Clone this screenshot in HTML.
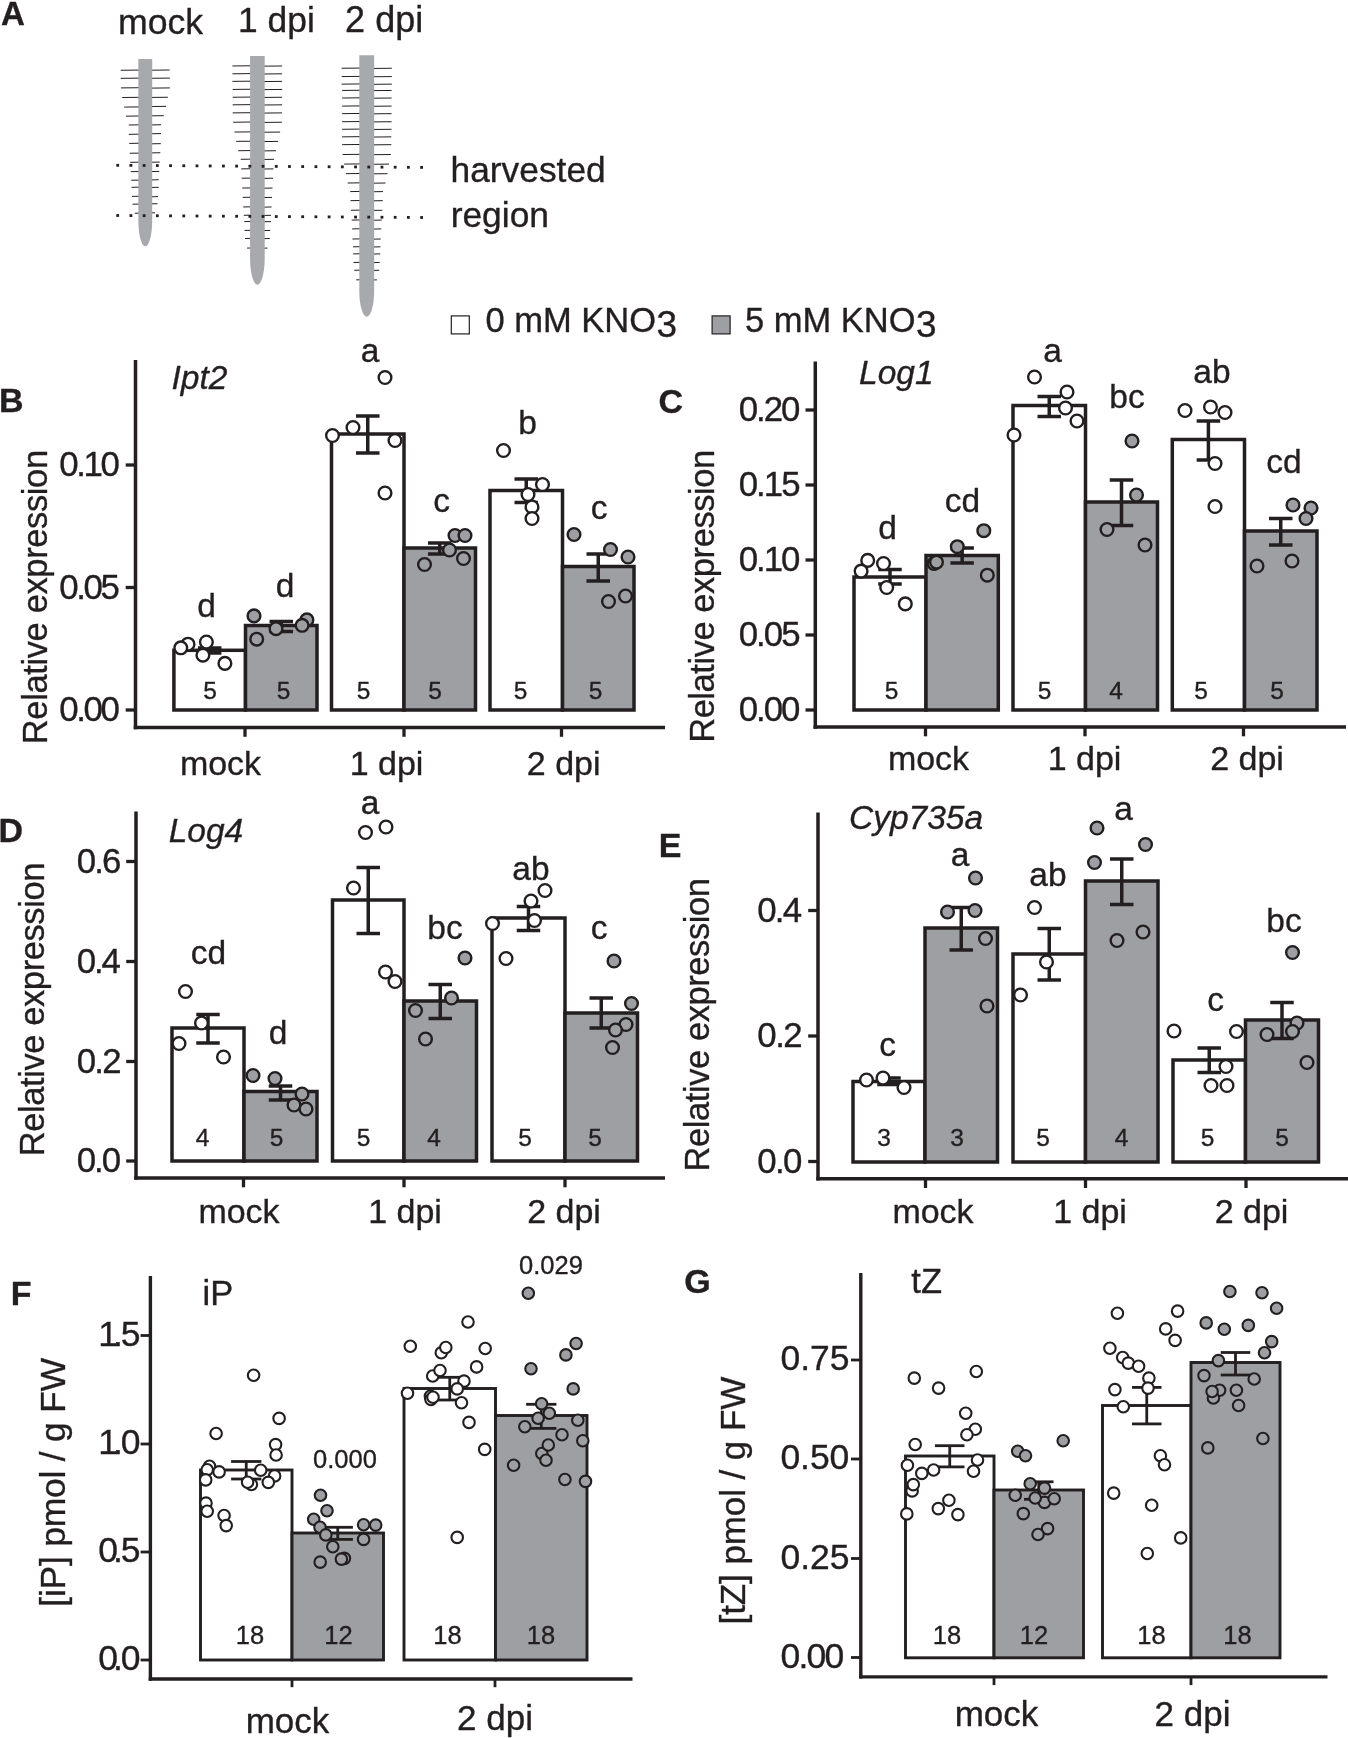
<!DOCTYPE html>
<html><head><meta charset="utf-8"><title>Figure</title>
<style>
html,body{margin:0;padding:0;background:#fff;}
svg{display:block;will-change:transform;}
svg text{font-family:"Liberation Sans",sans-serif;fill:#231F20;stroke:#231F20;stroke-width:0.35px;}
</style></head>
<body>
<svg width="1348" height="1738" viewBox="0 0 1348 1738">
<rect x="0" y="0" width="1348" height="1738" fill="#fff"/>
<text x="1" y="24.7" font-size="33" text-anchor="start" font-weight="bold" >A</text>
<text x="117.95" y="34.2" font-size="35.66">mock</text>
<text x="238.11" y="31.5" font-size="35.36">1 dpi</text>
<text x="345.10" y="31.5" font-size="36.03">2 dpi</text>
<text x="450.56" y="182.3" font-size="35.35">harvested</text>
<text x="450.66" y="226.8" font-size="35.4">region</text>
<line x1="120.68" y1="70.27" x2="145.27" y2="70.01" stroke="#231F20" stroke-width="1.0" stroke-linecap="butt"/>
<line x1="120.68" y1="78.34" x2="145.27" y2="78.09" stroke="#231F20" stroke-width="1.0" stroke-linecap="butt"/>
<line x1="120.93" y1="87.92" x2="145.27" y2="87.67" stroke="#231F20" stroke-width="1.0" stroke-linecap="butt"/>
<line x1="122.2" y1="97.51" x2="145.27" y2="97.26" stroke="#231F20" stroke-width="1.0" stroke-linecap="butt"/>
<line x1="124.21" y1="107.09" x2="145.27" y2="106.84" stroke="#231F20" stroke-width="1.0" stroke-linecap="butt"/>
<line x1="125.98" y1="116.17" x2="145.27" y2="115.92" stroke="#231F20" stroke-width="1.0" stroke-linecap="butt"/>
<line x1="128.75" y1="125.0" x2="145.27" y2="124.75" stroke="#231F20" stroke-width="1.0" stroke-linecap="butt"/>
<line x1="128.75" y1="134.33" x2="145.27" y2="134.08" stroke="#231F20" stroke-width="1.0" stroke-linecap="butt"/>
<line x1="129.26" y1="143.41" x2="145.27" y2="143.16" stroke="#231F20" stroke-width="1.0" stroke-linecap="butt"/>
<line x1="129.76" y1="153.25" x2="145.27" y2="153.0" stroke="#231F20" stroke-width="1.0" stroke-linecap="butt"/>
<line x1="130.27" y1="162.33" x2="145.27" y2="162.08" stroke="#231F20" stroke-width="1.0" stroke-linecap="butt"/>
<line x1="130.77" y1="171.66" x2="145.27" y2="171.41" stroke="#231F20" stroke-width="1.0" stroke-linecap="butt"/>
<line x1="131.28" y1="180.24" x2="145.27" y2="179.99" stroke="#231F20" stroke-width="1.0" stroke-linecap="butt"/>
<line x1="131.53" y1="187.3" x2="145.27" y2="187.05" stroke="#231F20" stroke-width="1.0" stroke-linecap="butt"/>
<line x1="132.03" y1="196.38" x2="145.27" y2="196.13" stroke="#231F20" stroke-width="1.0" stroke-linecap="butt"/>
<line x1="132.54" y1="204.2" x2="145.27" y2="203.95" stroke="#231F20" stroke-width="1.0" stroke-linecap="butt"/>
<line x1="134.81" y1="213.28" x2="145.27" y2="213.03" stroke="#231F20" stroke-width="1.0" stroke-linecap="butt"/>
<line x1="145.27" y1="70.27" x2="169.61" y2="70.01" stroke="#231F20" stroke-width="1.0" stroke-linecap="butt"/>
<line x1="145.27" y1="78.34" x2="169.87" y2="78.09" stroke="#231F20" stroke-width="1.0" stroke-linecap="butt"/>
<line x1="145.27" y1="88.18" x2="169.87" y2="87.92" stroke="#231F20" stroke-width="1.0" stroke-linecap="butt"/>
<line x1="145.27" y1="97.51" x2="167.85" y2="97.26" stroke="#231F20" stroke-width="1.0" stroke-linecap="butt"/>
<line x1="145.27" y1="106.59" x2="166.08" y2="106.34" stroke="#231F20" stroke-width="1.0" stroke-linecap="butt"/>
<line x1="145.27" y1="115.92" x2="163.81" y2="115.67" stroke="#231F20" stroke-width="1.0" stroke-linecap="butt"/>
<line x1="145.27" y1="125.0" x2="161.04" y2="124.75" stroke="#231F20" stroke-width="1.0" stroke-linecap="butt"/>
<line x1="145.27" y1="133.83" x2="161.04" y2="133.58" stroke="#231F20" stroke-width="1.0" stroke-linecap="butt"/>
<line x1="145.27" y1="143.92" x2="160.79" y2="143.66" stroke="#231F20" stroke-width="1.0" stroke-linecap="butt"/>
<line x1="145.27" y1="153.0" x2="160.28" y2="152.74" stroke="#231F20" stroke-width="1.0" stroke-linecap="butt"/>
<line x1="145.27" y1="162.33" x2="159.78" y2="162.08" stroke="#231F20" stroke-width="1.0" stroke-linecap="butt"/>
<line x1="145.27" y1="171.66" x2="159.27" y2="171.41" stroke="#231F20" stroke-width="1.0" stroke-linecap="butt"/>
<line x1="145.27" y1="179.99" x2="158.77" y2="179.73" stroke="#231F20" stroke-width="1.0" stroke-linecap="butt"/>
<line x1="145.27" y1="187.55" x2="158.77" y2="187.3" stroke="#231F20" stroke-width="1.0" stroke-linecap="butt"/>
<line x1="145.27" y1="196.88" x2="158.01" y2="196.63" stroke="#231F20" stroke-width="1.0" stroke-linecap="butt"/>
<line x1="145.27" y1="203.95" x2="157.51" y2="203.69" stroke="#231F20" stroke-width="1.0" stroke-linecap="butt"/>
<line x1="145.27" y1="213.03" x2="154.99" y2="212.77" stroke="#231F20" stroke-width="1.0" stroke-linecap="butt"/>
<path d="M138.34,58.92 L152.21,58.92 L152.21,221.33 A6.94,26 0 0 1 138.34,221.33 Z" fill="#A7A9AC"/>
<line x1="232.42" y1="65.98" x2="257.39" y2="65.73" stroke="#231F20" stroke-width="1.0" stroke-linecap="butt"/>
<line x1="232.42" y1="73.8" x2="257.39" y2="73.55" stroke="#231F20" stroke-width="1.0" stroke-linecap="butt"/>
<line x1="232.42" y1="81.36" x2="257.39" y2="81.11" stroke="#231F20" stroke-width="1.0" stroke-linecap="butt"/>
<line x1="232.67" y1="89.44" x2="257.39" y2="89.18" stroke="#231F20" stroke-width="1.0" stroke-linecap="butt"/>
<line x1="232.67" y1="97.26" x2="257.39" y2="97.0" stroke="#231F20" stroke-width="1.0" stroke-linecap="butt"/>
<line x1="232.67" y1="104.82" x2="257.39" y2="104.57" stroke="#231F20" stroke-width="1.0" stroke-linecap="butt"/>
<line x1="232.67" y1="112.89" x2="257.39" y2="112.64" stroke="#231F20" stroke-width="1.0" stroke-linecap="butt"/>
<line x1="233.18" y1="122.23" x2="257.39" y2="121.97" stroke="#231F20" stroke-width="1.0" stroke-linecap="butt"/>
<line x1="234.44" y1="132.06" x2="257.39" y2="131.81" stroke="#231F20" stroke-width="1.0" stroke-linecap="butt"/>
<line x1="236.2" y1="141.39" x2="257.39" y2="141.14" stroke="#231F20" stroke-width="1.0" stroke-linecap="butt"/>
<line x1="238.22" y1="150.73" x2="257.39" y2="150.47" stroke="#231F20" stroke-width="1.0" stroke-linecap="butt"/>
<line x1="240.74" y1="159.3" x2="257.39" y2="159.05" stroke="#231F20" stroke-width="1.0" stroke-linecap="butt"/>
<line x1="241.25" y1="168.89" x2="257.39" y2="168.64" stroke="#231F20" stroke-width="1.0" stroke-linecap="butt"/>
<line x1="241.75" y1="178.22" x2="257.39" y2="177.97" stroke="#231F20" stroke-width="1.0" stroke-linecap="butt"/>
<line x1="242.26" y1="188.06" x2="257.39" y2="187.8" stroke="#231F20" stroke-width="1.0" stroke-linecap="butt"/>
<line x1="242.76" y1="197.39" x2="257.39" y2="197.14" stroke="#231F20" stroke-width="1.0" stroke-linecap="butt"/>
<line x1="243.26" y1="206.97" x2="257.39" y2="206.72" stroke="#231F20" stroke-width="1.0" stroke-linecap="butt"/>
<line x1="243.77" y1="215.3" x2="257.39" y2="215.04" stroke="#231F20" stroke-width="1.0" stroke-linecap="butt"/>
<line x1="244.27" y1="221.6" x2="257.39" y2="221.35" stroke="#231F20" stroke-width="1.0" stroke-linecap="butt"/>
<line x1="244.53" y1="230.43" x2="257.39" y2="230.18" stroke="#231F20" stroke-width="1.0" stroke-linecap="butt"/>
<line x1="245.03" y1="238.5" x2="257.39" y2="238.25" stroke="#231F20" stroke-width="1.0" stroke-linecap="butt"/>
<line x1="247.05" y1="248.09" x2="257.39" y2="247.83" stroke="#231F20" stroke-width="1.0" stroke-linecap="butt"/>
<line x1="257.39" y1="66.23" x2="282.11" y2="65.98" stroke="#231F20" stroke-width="1.0" stroke-linecap="butt"/>
<line x1="257.39" y1="74.05" x2="282.11" y2="73.8" stroke="#231F20" stroke-width="1.0" stroke-linecap="butt"/>
<line x1="257.39" y1="81.62" x2="282.11" y2="81.36" stroke="#231F20" stroke-width="1.0" stroke-linecap="butt"/>
<line x1="257.39" y1="89.69" x2="282.11" y2="89.44" stroke="#231F20" stroke-width="1.0" stroke-linecap="butt"/>
<line x1="257.39" y1="97.51" x2="282.11" y2="97.26" stroke="#231F20" stroke-width="1.0" stroke-linecap="butt"/>
<line x1="257.39" y1="105.07" x2="282.11" y2="104.82" stroke="#231F20" stroke-width="1.0" stroke-linecap="butt"/>
<line x1="257.39" y1="113.15" x2="282.11" y2="112.89" stroke="#231F20" stroke-width="1.0" stroke-linecap="butt"/>
<line x1="257.39" y1="122.48" x2="281.85" y2="122.23" stroke="#231F20" stroke-width="1.0" stroke-linecap="butt"/>
<line x1="257.39" y1="132.31" x2="280.09" y2="132.06" stroke="#231F20" stroke-width="1.0" stroke-linecap="butt"/>
<line x1="257.39" y1="141.65" x2="278.07" y2="141.39" stroke="#231F20" stroke-width="1.0" stroke-linecap="butt"/>
<line x1="257.39" y1="150.98" x2="276.05" y2="150.73" stroke="#231F20" stroke-width="1.0" stroke-linecap="butt"/>
<line x1="257.39" y1="159.55" x2="274.04" y2="159.3" stroke="#231F20" stroke-width="1.0" stroke-linecap="butt"/>
<line x1="257.39" y1="169.14" x2="273.53" y2="168.89" stroke="#231F20" stroke-width="1.0" stroke-linecap="butt"/>
<line x1="257.39" y1="178.47" x2="273.03" y2="178.22" stroke="#231F20" stroke-width="1.0" stroke-linecap="butt"/>
<line x1="257.39" y1="188.31" x2="272.52" y2="188.06" stroke="#231F20" stroke-width="1.0" stroke-linecap="butt"/>
<line x1="257.39" y1="197.64" x2="272.02" y2="197.39" stroke="#231F20" stroke-width="1.0" stroke-linecap="butt"/>
<line x1="257.39" y1="207.23" x2="271.51" y2="206.97" stroke="#231F20" stroke-width="1.0" stroke-linecap="butt"/>
<line x1="257.39" y1="215.55" x2="271.01" y2="215.3" stroke="#231F20" stroke-width="1.0" stroke-linecap="butt"/>
<line x1="257.39" y1="221.85" x2="271.01" y2="221.6" stroke="#231F20" stroke-width="1.0" stroke-linecap="butt"/>
<line x1="257.39" y1="230.68" x2="270.25" y2="230.43" stroke="#231F20" stroke-width="1.0" stroke-linecap="butt"/>
<line x1="257.39" y1="238.75" x2="269.75" y2="238.5" stroke="#231F20" stroke-width="1.0" stroke-linecap="butt"/>
<line x1="257.39" y1="248.34" x2="267.48" y2="248.09" stroke="#231F20" stroke-width="1.0" stroke-linecap="butt"/>
<path d="M250.07,55.89 L264.7,55.89 L264.7,258.66 A7.31,26 0 0 1 250.07,258.66 Z" fill="#A7A9AC"/>
<line x1="341.63" y1="68.25" x2="366.73" y2="68.0" stroke="#231F20" stroke-width="1.0" stroke-linecap="butt"/>
<line x1="341.63" y1="76.57" x2="366.73" y2="76.32" stroke="#231F20" stroke-width="1.0" stroke-linecap="butt"/>
<line x1="341.63" y1="84.14" x2="366.73" y2="83.89" stroke="#231F20" stroke-width="1.0" stroke-linecap="butt"/>
<line x1="342.14" y1="90.45" x2="366.73" y2="90.19" stroke="#231F20" stroke-width="1.0" stroke-linecap="butt"/>
<line x1="342.14" y1="98.01" x2="366.73" y2="97.76" stroke="#231F20" stroke-width="1.0" stroke-linecap="butt"/>
<line x1="342.14" y1="106.08" x2="366.73" y2="105.83" stroke="#231F20" stroke-width="1.0" stroke-linecap="butt"/>
<line x1="342.14" y1="113.65" x2="366.73" y2="113.4" stroke="#231F20" stroke-width="1.0" stroke-linecap="butt"/>
<line x1="342.14" y1="121.72" x2="366.73" y2="121.47" stroke="#231F20" stroke-width="1.0" stroke-linecap="butt"/>
<line x1="342.14" y1="129.29" x2="366.73" y2="129.04" stroke="#231F20" stroke-width="1.0" stroke-linecap="butt"/>
<line x1="342.14" y1="136.85" x2="366.73" y2="136.6" stroke="#231F20" stroke-width="1.0" stroke-linecap="butt"/>
<line x1="342.14" y1="144.67" x2="366.73" y2="144.42" stroke="#231F20" stroke-width="1.0" stroke-linecap="butt"/>
<line x1="342.64" y1="154.51" x2="366.73" y2="154.26" stroke="#231F20" stroke-width="1.0" stroke-linecap="butt"/>
<line x1="344.15" y1="164.09" x2="366.73" y2="163.84" stroke="#231F20" stroke-width="1.0" stroke-linecap="butt"/>
<line x1="345.92" y1="173.68" x2="366.73" y2="173.43" stroke="#231F20" stroke-width="1.0" stroke-linecap="butt"/>
<line x1="347.69" y1="183.01" x2="366.73" y2="182.76" stroke="#231F20" stroke-width="1.0" stroke-linecap="butt"/>
<line x1="350.21" y1="191.59" x2="366.73" y2="191.34" stroke="#231F20" stroke-width="1.0" stroke-linecap="butt"/>
<line x1="350.46" y1="200.67" x2="366.73" y2="200.42" stroke="#231F20" stroke-width="1.0" stroke-linecap="butt"/>
<line x1="350.96" y1="210.25" x2="366.73" y2="210.0" stroke="#231F20" stroke-width="1.0" stroke-linecap="butt"/>
<line x1="351.72" y1="220.09" x2="366.73" y2="219.84" stroke="#231F20" stroke-width="1.0" stroke-linecap="butt"/>
<line x1="352.23" y1="228.92" x2="366.73" y2="228.66" stroke="#231F20" stroke-width="1.0" stroke-linecap="butt"/>
<line x1="352.48" y1="239.01" x2="366.73" y2="238.75" stroke="#231F20" stroke-width="1.0" stroke-linecap="butt"/>
<line x1="352.98" y1="246.82" x2="366.73" y2="246.57" stroke="#231F20" stroke-width="1.0" stroke-linecap="butt"/>
<line x1="353.23" y1="253.89" x2="366.73" y2="253.64" stroke="#231F20" stroke-width="1.0" stroke-linecap="butt"/>
<line x1="353.49" y1="262.46" x2="366.73" y2="262.21" stroke="#231F20" stroke-width="1.0" stroke-linecap="butt"/>
<line x1="354.24" y1="270.28" x2="366.73" y2="270.03" stroke="#231F20" stroke-width="1.0" stroke-linecap="butt"/>
<line x1="356.26" y1="279.87" x2="366.73" y2="279.61" stroke="#231F20" stroke-width="1.0" stroke-linecap="butt"/>
<line x1="366.73" y1="68.5" x2="391.82" y2="68.25" stroke="#231F20" stroke-width="1.0" stroke-linecap="butt"/>
<line x1="366.73" y1="76.82" x2="391.82" y2="76.57" stroke="#231F20" stroke-width="1.0" stroke-linecap="butt"/>
<line x1="366.73" y1="84.39" x2="391.82" y2="84.14" stroke="#231F20" stroke-width="1.0" stroke-linecap="butt"/>
<line x1="366.73" y1="90.7" x2="391.57" y2="90.45" stroke="#231F20" stroke-width="1.0" stroke-linecap="butt"/>
<line x1="366.73" y1="98.26" x2="391.57" y2="98.01" stroke="#231F20" stroke-width="1.0" stroke-linecap="butt"/>
<line x1="366.73" y1="106.34" x2="391.57" y2="106.08" stroke="#231F20" stroke-width="1.0" stroke-linecap="butt"/>
<line x1="366.73" y1="113.9" x2="391.57" y2="113.65" stroke="#231F20" stroke-width="1.0" stroke-linecap="butt"/>
<line x1="366.73" y1="121.97" x2="391.57" y2="121.72" stroke="#231F20" stroke-width="1.0" stroke-linecap="butt"/>
<line x1="366.73" y1="129.54" x2="391.57" y2="129.29" stroke="#231F20" stroke-width="1.0" stroke-linecap="butt"/>
<line x1="366.73" y1="137.11" x2="391.32" y2="136.85" stroke="#231F20" stroke-width="1.0" stroke-linecap="butt"/>
<line x1="366.73" y1="144.93" x2="391.32" y2="144.67" stroke="#231F20" stroke-width="1.0" stroke-linecap="butt"/>
<line x1="366.73" y1="154.76" x2="390.82" y2="154.51" stroke="#231F20" stroke-width="1.0" stroke-linecap="butt"/>
<line x1="366.73" y1="164.35" x2="389.05" y2="164.09" stroke="#231F20" stroke-width="1.0" stroke-linecap="butt"/>
<line x1="366.73" y1="173.93" x2="387.54" y2="173.68" stroke="#231F20" stroke-width="1.0" stroke-linecap="butt"/>
<line x1="366.73" y1="183.26" x2="385.52" y2="183.01" stroke="#231F20" stroke-width="1.0" stroke-linecap="butt"/>
<line x1="366.73" y1="191.84" x2="383.0" y2="191.59" stroke="#231F20" stroke-width="1.0" stroke-linecap="butt"/>
<line x1="366.73" y1="200.92" x2="382.74" y2="200.67" stroke="#231F20" stroke-width="1.0" stroke-linecap="butt"/>
<line x1="366.73" y1="210.5" x2="382.24" y2="210.25" stroke="#231F20" stroke-width="1.0" stroke-linecap="butt"/>
<line x1="366.73" y1="220.34" x2="381.74" y2="220.09" stroke="#231F20" stroke-width="1.0" stroke-linecap="butt"/>
<line x1="366.73" y1="229.17" x2="381.23" y2="228.92" stroke="#231F20" stroke-width="1.0" stroke-linecap="butt"/>
<line x1="366.73" y1="239.26" x2="380.73" y2="239.01" stroke="#231F20" stroke-width="1.0" stroke-linecap="butt"/>
<line x1="366.73" y1="247.08" x2="380.47" y2="246.82" stroke="#231F20" stroke-width="1.0" stroke-linecap="butt"/>
<line x1="366.73" y1="254.14" x2="380.22" y2="253.89" stroke="#231F20" stroke-width="1.0" stroke-linecap="butt"/>
<line x1="366.73" y1="262.72" x2="379.72" y2="262.46" stroke="#231F20" stroke-width="1.0" stroke-linecap="butt"/>
<line x1="366.73" y1="270.53" x2="379.21" y2="270.28" stroke="#231F20" stroke-width="1.0" stroke-linecap="butt"/>
<line x1="366.73" y1="280.12" x2="376.94" y2="279.87" stroke="#231F20" stroke-width="1.0" stroke-linecap="butt"/>
<path d="M359.29,55.13 L374.17,55.13 L374.17,290.69 A7.44,26 0 0 1 359.29,290.69 Z" fill="#A7A9AC"/>
<rect x="116.30" y="163.90" width="2.8" height="2.8" fill="#231F20"/>
<rect x="129.51" y="163.99" width="2.8" height="2.8" fill="#231F20"/>
<rect x="142.73" y="164.08" width="2.8" height="2.8" fill="#231F20"/>
<rect x="155.94" y="164.17" width="2.8" height="2.8" fill="#231F20"/>
<rect x="169.15" y="164.27" width="2.8" height="2.8" fill="#231F20"/>
<rect x="182.37" y="164.36" width="2.8" height="2.8" fill="#231F20"/>
<rect x="195.58" y="164.45" width="2.8" height="2.8" fill="#231F20"/>
<rect x="208.79" y="164.54" width="2.8" height="2.8" fill="#231F20"/>
<rect x="222.00" y="164.63" width="2.8" height="2.8" fill="#231F20"/>
<rect x="235.22" y="164.72" width="2.8" height="2.8" fill="#231F20"/>
<rect x="248.43" y="164.81" width="2.8" height="2.8" fill="#231F20"/>
<rect x="261.64" y="164.90" width="2.8" height="2.8" fill="#231F20"/>
<rect x="274.86" y="165.00" width="2.8" height="2.8" fill="#231F20"/>
<rect x="288.07" y="165.09" width="2.8" height="2.8" fill="#231F20"/>
<rect x="301.28" y="165.18" width="2.8" height="2.8" fill="#231F20"/>
<rect x="314.50" y="165.27" width="2.8" height="2.8" fill="#231F20"/>
<rect x="327.71" y="165.36" width="2.8" height="2.8" fill="#231F20"/>
<rect x="340.92" y="165.45" width="2.8" height="2.8" fill="#231F20"/>
<rect x="354.13" y="165.54" width="2.8" height="2.8" fill="#231F20"/>
<rect x="367.35" y="165.63" width="2.8" height="2.8" fill="#231F20"/>
<rect x="380.56" y="165.73" width="2.8" height="2.8" fill="#231F20"/>
<rect x="393.77" y="165.82" width="2.8" height="2.8" fill="#231F20"/>
<rect x="406.99" y="165.91" width="2.8" height="2.8" fill="#231F20"/>
<rect x="420.20" y="166.00" width="2.8" height="2.8" fill="#231F20"/>
<rect x="116.30" y="214.10" width="2.8" height="2.8" fill="#231F20"/>
<rect x="129.51" y="214.19" width="2.8" height="2.8" fill="#231F20"/>
<rect x="142.73" y="214.27" width="2.8" height="2.8" fill="#231F20"/>
<rect x="155.94" y="214.36" width="2.8" height="2.8" fill="#231F20"/>
<rect x="169.15" y="214.45" width="2.8" height="2.8" fill="#231F20"/>
<rect x="182.37" y="214.53" width="2.8" height="2.8" fill="#231F20"/>
<rect x="195.58" y="214.62" width="2.8" height="2.8" fill="#231F20"/>
<rect x="208.79" y="214.71" width="2.8" height="2.8" fill="#231F20"/>
<rect x="222.00" y="214.80" width="2.8" height="2.8" fill="#231F20"/>
<rect x="235.22" y="214.88" width="2.8" height="2.8" fill="#231F20"/>
<rect x="248.43" y="214.97" width="2.8" height="2.8" fill="#231F20"/>
<rect x="261.64" y="215.06" width="2.8" height="2.8" fill="#231F20"/>
<rect x="274.86" y="215.14" width="2.8" height="2.8" fill="#231F20"/>
<rect x="288.07" y="215.23" width="2.8" height="2.8" fill="#231F20"/>
<rect x="301.28" y="215.32" width="2.8" height="2.8" fill="#231F20"/>
<rect x="314.50" y="215.40" width="2.8" height="2.8" fill="#231F20"/>
<rect x="327.71" y="215.49" width="2.8" height="2.8" fill="#231F20"/>
<rect x="340.92" y="215.58" width="2.8" height="2.8" fill="#231F20"/>
<rect x="354.13" y="215.67" width="2.8" height="2.8" fill="#231F20"/>
<rect x="367.35" y="215.75" width="2.8" height="2.8" fill="#231F20"/>
<rect x="380.56" y="215.84" width="2.8" height="2.8" fill="#231F20"/>
<rect x="393.77" y="215.93" width="2.8" height="2.8" fill="#231F20"/>
<rect x="406.99" y="216.01" width="2.8" height="2.8" fill="#231F20"/>
<rect x="420.20" y="216.10" width="2.8" height="2.8" fill="#231F20"/>
<rect x="451.3" y="315.9" width="18" height="18" fill="#fff" stroke="#231F20" stroke-width="1.2"/>
<rect x="712.1" y="315.9" width="18" height="18" fill="#9D9FA2" stroke="#231F20" stroke-width="1.2"/>
<text x="485.5" y="331.5" font-size="34.5" text-anchor="start" >0 mM KNO</text>
<text x="656.5" y="337.4" font-size="37" text-anchor="start" >3</text>
<text x="745" y="331.5" font-size="34.5" text-anchor="start" >5 mM KNO</text>
<text x="916" y="337.4" font-size="37" text-anchor="start" >3</text>
<rect x="173.9" y="650.3" width="71.6" height="59.700000000000045" fill="#fff" stroke="#231F20" stroke-width="3.5"/>
<rect x="245.5" y="625.5" width="71.5" height="84.5" fill="#9D9FA2" stroke="#231F20" stroke-width="3.5"/>
<rect x="331.5" y="434" width="72.5" height="276" fill="#fff" stroke="#231F20" stroke-width="3.5"/>
<rect x="404" y="548" width="71.5" height="162" fill="#9D9FA2" stroke="#231F20" stroke-width="3.5"/>
<rect x="490" y="490.5" width="72.5" height="219.5" fill="#fff" stroke="#231F20" stroke-width="3.5"/>
<rect x="562.5" y="566.5" width="71.5" height="143.5" fill="#9D9FA2" stroke="#231F20" stroke-width="3.5"/>
<line x1="135.5" y1="360" x2="135.5" y2="729.25" stroke="#231F20" stroke-width="3.5" stroke-linecap="butt"/>
<line x1="133.75" y1="727.5" x2="665" y2="727.5" stroke="#231F20" stroke-width="3.5" stroke-linecap="butt"/>
<line x1="125.7" y1="465" x2="135.5" y2="465" stroke="#231F20" stroke-width="3.3" stroke-linecap="butt"/>
<text x="59.24" y="476.2" font-size="34.8" letter-spacing="-2.380">0.10</text>
<line x1="125.7" y1="587.5" x2="135.5" y2="587.5" stroke="#231F20" stroke-width="3.3" stroke-linecap="butt"/>
<text x="59.24" y="598.7" font-size="34.8" letter-spacing="-2.346">0.05</text>
<line x1="125.7" y1="710" x2="135.5" y2="710" stroke="#231F20" stroke-width="3.3" stroke-linecap="butt"/>
<text x="59.24" y="721.2" font-size="34.8" letter-spacing="-2.380">0.00</text>
<line x1="245" y1="727.5" x2="245" y2="736.8" stroke="#231F20" stroke-width="3.3" stroke-linecap="butt"/>
<line x1="404" y1="727.5" x2="404" y2="736.8" stroke="#231F20" stroke-width="3.3" stroke-linecap="butt"/>
<line x1="561.5" y1="727.5" x2="561.5" y2="736.8" stroke="#231F20" stroke-width="3.3" stroke-linecap="butt"/>
<text x="220.5" y="775" font-size="34" text-anchor="middle" >mock</text>
<text x="386.5" y="775" font-size="34" text-anchor="middle" >1 dpi</text>
<text x="563.7" y="775" font-size="34" text-anchor="middle" >2 dpi</text>
<line x1="209.7" y1="648" x2="209.7" y2="653" stroke="#231F20" stroke-width="3.5" stroke-linecap="butt"/>
<line x1="197.95" y1="648" x2="221.45" y2="648" stroke="#231F20" stroke-width="3.5" stroke-linecap="butt"/>
<line x1="197.95" y1="653" x2="221.45" y2="653" stroke="#231F20" stroke-width="3.5" stroke-linecap="butt"/>
<line x1="281.25" y1="621.5" x2="281.25" y2="631.5" stroke="#231F20" stroke-width="3.5" stroke-linecap="butt"/>
<line x1="269.5" y1="621.5" x2="293.0" y2="621.5" stroke="#231F20" stroke-width="3.5" stroke-linecap="butt"/>
<line x1="269.5" y1="631.5" x2="293.0" y2="631.5" stroke="#231F20" stroke-width="3.5" stroke-linecap="butt"/>
<line x1="367.75" y1="416" x2="367.75" y2="453" stroke="#231F20" stroke-width="3.5" stroke-linecap="butt"/>
<line x1="356.0" y1="416" x2="379.5" y2="416" stroke="#231F20" stroke-width="3.5" stroke-linecap="butt"/>
<line x1="356.0" y1="453" x2="379.5" y2="453" stroke="#231F20" stroke-width="3.5" stroke-linecap="butt"/>
<line x1="439.75" y1="543" x2="439.75" y2="554" stroke="#231F20" stroke-width="3.5" stroke-linecap="butt"/>
<line x1="428.0" y1="543" x2="451.5" y2="543" stroke="#231F20" stroke-width="3.5" stroke-linecap="butt"/>
<line x1="428.0" y1="554" x2="451.5" y2="554" stroke="#231F20" stroke-width="3.5" stroke-linecap="butt"/>
<line x1="526.25" y1="479" x2="526.25" y2="502.5" stroke="#231F20" stroke-width="3.5" stroke-linecap="butt"/>
<line x1="514.5" y1="479" x2="538.0" y2="479" stroke="#231F20" stroke-width="3.5" stroke-linecap="butt"/>
<line x1="514.5" y1="502.5" x2="538.0" y2="502.5" stroke="#231F20" stroke-width="3.5" stroke-linecap="butt"/>
<line x1="598.25" y1="554" x2="598.25" y2="581" stroke="#231F20" stroke-width="3.5" stroke-linecap="butt"/>
<line x1="586.5" y1="554" x2="610.0" y2="554" stroke="#231F20" stroke-width="3.5" stroke-linecap="butt"/>
<line x1="586.5" y1="581" x2="610.0" y2="581" stroke="#231F20" stroke-width="3.5" stroke-linecap="butt"/>
<circle cx="188" cy="644.2" r="6.35" fill="#fff" stroke="#231F20" stroke-width="2.4"/>
<circle cx="180.8" cy="647.8" r="6.35" fill="#fff" stroke="#231F20" stroke-width="2.4"/>
<circle cx="206.4" cy="642" r="6.35" fill="#fff" stroke="#231F20" stroke-width="2.4"/>
<circle cx="202.9" cy="655.2" r="6.35" fill="#fff" stroke="#231F20" stroke-width="2.4"/>
<circle cx="224.9" cy="663.4" r="6.35" fill="#fff" stroke="#231F20" stroke-width="2.4"/>
<circle cx="254" cy="615.9" r="6.35" fill="#9D9FA2" stroke="#231F20" stroke-width="2.4"/>
<circle cx="256.7" cy="639.2" r="6.35" fill="#9D9FA2" stroke="#231F20" stroke-width="2.4"/>
<circle cx="276" cy="628.7" r="6.35" fill="#9D9FA2" stroke="#231F20" stroke-width="2.4"/>
<circle cx="306.9" cy="619.9" r="6.35" fill="#9D9FA2" stroke="#231F20" stroke-width="2.4"/>
<circle cx="302.1" cy="625.3" r="6.35" fill="#9D9FA2" stroke="#231F20" stroke-width="2.4"/>
<circle cx="332.5" cy="435.5" r="6.35" fill="#fff" stroke="#231F20" stroke-width="2.4"/>
<circle cx="353" cy="427.5" r="6.35" fill="#fff" stroke="#231F20" stroke-width="2.4"/>
<circle cx="385" cy="377.5" r="6.35" fill="#fff" stroke="#231F20" stroke-width="2.4"/>
<circle cx="395" cy="440.5" r="6.35" fill="#fff" stroke="#231F20" stroke-width="2.4"/>
<circle cx="385" cy="493" r="6.35" fill="#fff" stroke="#231F20" stroke-width="2.4"/>
<circle cx="424.5" cy="564.5" r="6.35" fill="#9D9FA2" stroke="#231F20" stroke-width="2.4"/>
<circle cx="449.5" cy="550" r="6.35" fill="#9D9FA2" stroke="#231F20" stroke-width="2.4"/>
<circle cx="455" cy="535.5" r="6.35" fill="#9D9FA2" stroke="#231F20" stroke-width="2.4"/>
<circle cx="465" cy="535.5" r="6.35" fill="#9D9FA2" stroke="#231F20" stroke-width="2.4"/>
<circle cx="463.5" cy="558.5" r="6.35" fill="#9D9FA2" stroke="#231F20" stroke-width="2.4"/>
<circle cx="503.5" cy="450.5" r="6.35" fill="#fff" stroke="#231F20" stroke-width="2.4"/>
<circle cx="528" cy="494.5" r="6.35" fill="#fff" stroke="#231F20" stroke-width="2.4"/>
<circle cx="542.5" cy="484.5" r="6.35" fill="#fff" stroke="#231F20" stroke-width="2.4"/>
<circle cx="532" cy="507" r="6.35" fill="#fff" stroke="#231F20" stroke-width="2.4"/>
<circle cx="532" cy="518.5" r="6.35" fill="#fff" stroke="#231F20" stroke-width="2.4"/>
<circle cx="574" cy="534.5" r="6.35" fill="#9D9FA2" stroke="#231F20" stroke-width="2.4"/>
<circle cx="610.5" cy="549.5" r="6.35" fill="#9D9FA2" stroke="#231F20" stroke-width="2.4"/>
<circle cx="628" cy="557" r="6.35" fill="#9D9FA2" stroke="#231F20" stroke-width="2.4"/>
<circle cx="608.5" cy="601.5" r="6.35" fill="#9D9FA2" stroke="#231F20" stroke-width="2.4"/>
<circle cx="625.5" cy="596" r="6.35" fill="#9D9FA2" stroke="#231F20" stroke-width="2.4"/>
<text x="370" y="361.5" font-size="33.5" text-anchor="middle" >a</text>
<text x="527.5" y="434" font-size="33.5" text-anchor="middle" >b</text>
<text x="441.5" y="512" font-size="33.5" text-anchor="middle" >c</text>
<text x="599" y="518.5" font-size="33.5" text-anchor="middle" >c</text>
<text x="206.5" y="616.5" font-size="33.5" text-anchor="middle" >d</text>
<text x="285" y="597" font-size="33.5" text-anchor="middle" >d</text>
<text x="210" y="699" font-size="24.5" text-anchor="middle" >5</text>
<text x="283.5" y="699" font-size="24.5" text-anchor="middle" >5</text>
<text x="363.5" y="699" font-size="24.5" text-anchor="middle" >5</text>
<text x="435" y="699" font-size="24.5" text-anchor="middle" >5</text>
<text x="520.5" y="699" font-size="24.5" text-anchor="middle" >5</text>
<text x="595.5" y="699" font-size="24.5" text-anchor="middle" >5</text>
<text x="171.5" y="389" font-size="33.5" text-anchor="start" font-style="italic" >Ipt2</text>
<text x="-1" y="411.5" font-size="34" text-anchor="start" font-weight="bold" >B</text>
<text transform="translate(46.7,741.4) rotate(-90)" x="-2.83" y="0" font-size="34.5" letter-spacing="-0.373">Relative expression</text>
<rect x="854" y="577" width="72" height="133" fill="#fff" stroke="#231F20" stroke-width="3.5"/>
<rect x="926" y="555.5" width="72.29999999999995" height="154.5" fill="#9D9FA2" stroke="#231F20" stroke-width="3.5"/>
<rect x="1013" y="405.5" width="72.5" height="304.5" fill="#fff" stroke="#231F20" stroke-width="3.5"/>
<rect x="1085.5" y="502" width="72.0" height="208" fill="#9D9FA2" stroke="#231F20" stroke-width="3.5"/>
<rect x="1172.3" y="439.5" width="72.20000000000005" height="270.5" fill="#fff" stroke="#231F20" stroke-width="3.5"/>
<rect x="1244.5" y="531" width="72.5" height="179" fill="#9D9FA2" stroke="#231F20" stroke-width="3.5"/>
<line x1="815.3" y1="361.5" x2="815.3" y2="728.75" stroke="#231F20" stroke-width="3.5" stroke-linecap="butt"/>
<line x1="813.55" y1="727" x2="1346" y2="727" stroke="#231F20" stroke-width="3.5" stroke-linecap="butt"/>
<line x1="805.5" y1="410" x2="815.3" y2="410" stroke="#231F20" stroke-width="3.3" stroke-linecap="butt"/>
<text x="738.64" y="421.0" font-size="34.8" letter-spacing="-1.980">0.20</text>
<line x1="805.5" y1="485" x2="815.3" y2="485" stroke="#231F20" stroke-width="3.3" stroke-linecap="butt"/>
<text x="738.64" y="496.0" font-size="34.8" letter-spacing="-1.946">0.15</text>
<line x1="805.5" y1="560" x2="815.3" y2="560" stroke="#231F20" stroke-width="3.3" stroke-linecap="butt"/>
<text x="738.64" y="571.0" font-size="34.8" letter-spacing="-1.980">0.10</text>
<line x1="805.5" y1="635" x2="815.3" y2="635" stroke="#231F20" stroke-width="3.3" stroke-linecap="butt"/>
<text x="738.64" y="646.0" font-size="34.8" letter-spacing="-1.946">0.05</text>
<line x1="805.5" y1="710" x2="815.3" y2="710" stroke="#231F20" stroke-width="3.3" stroke-linecap="butt"/>
<text x="738.64" y="721.0" font-size="34.8" letter-spacing="-1.980">0.00</text>
<line x1="925.5" y1="727" x2="925.5" y2="736.3" stroke="#231F20" stroke-width="3.3" stroke-linecap="butt"/>
<line x1="1085" y1="727" x2="1085" y2="736.3" stroke="#231F20" stroke-width="3.3" stroke-linecap="butt"/>
<line x1="1243.5" y1="727" x2="1243.5" y2="736.3" stroke="#231F20" stroke-width="3.3" stroke-linecap="butt"/>
<text x="928.5" y="770" font-size="34" text-anchor="middle" >mock</text>
<text x="1084.5" y="770" font-size="34" text-anchor="middle" >1 dpi</text>
<text x="1247" y="770" font-size="34" text-anchor="middle" >2 dpi</text>
<line x1="890.0" y1="569.5" x2="890.0" y2="584" stroke="#231F20" stroke-width="3.5" stroke-linecap="butt"/>
<line x1="878.25" y1="569.5" x2="901.75" y2="569.5" stroke="#231F20" stroke-width="3.5" stroke-linecap="butt"/>
<line x1="878.25" y1="584" x2="901.75" y2="584" stroke="#231F20" stroke-width="3.5" stroke-linecap="butt"/>
<line x1="962.15" y1="548" x2="962.15" y2="563" stroke="#231F20" stroke-width="3.5" stroke-linecap="butt"/>
<line x1="950.4" y1="548" x2="973.9" y2="548" stroke="#231F20" stroke-width="3.5" stroke-linecap="butt"/>
<line x1="950.4" y1="563" x2="973.9" y2="563" stroke="#231F20" stroke-width="3.5" stroke-linecap="butt"/>
<line x1="1049.25" y1="396.5" x2="1049.25" y2="416.5" stroke="#231F20" stroke-width="3.5" stroke-linecap="butt"/>
<line x1="1037.5" y1="396.5" x2="1061.0" y2="396.5" stroke="#231F20" stroke-width="3.5" stroke-linecap="butt"/>
<line x1="1037.5" y1="416.5" x2="1061.0" y2="416.5" stroke="#231F20" stroke-width="3.5" stroke-linecap="butt"/>
<line x1="1121.5" y1="480" x2="1121.5" y2="525.5" stroke="#231F20" stroke-width="3.5" stroke-linecap="butt"/>
<line x1="1109.75" y1="480" x2="1133.25" y2="480" stroke="#231F20" stroke-width="3.5" stroke-linecap="butt"/>
<line x1="1109.75" y1="525.5" x2="1133.25" y2="525.5" stroke="#231F20" stroke-width="3.5" stroke-linecap="butt"/>
<line x1="1208.4" y1="421" x2="1208.4" y2="460" stroke="#231F20" stroke-width="3.5" stroke-linecap="butt"/>
<line x1="1196.65" y1="421" x2="1220.15" y2="421" stroke="#231F20" stroke-width="3.5" stroke-linecap="butt"/>
<line x1="1196.65" y1="460" x2="1220.15" y2="460" stroke="#231F20" stroke-width="3.5" stroke-linecap="butt"/>
<line x1="1280.75" y1="518.5" x2="1280.75" y2="545" stroke="#231F20" stroke-width="3.5" stroke-linecap="butt"/>
<line x1="1269.0" y1="518.5" x2="1292.5" y2="518.5" stroke="#231F20" stroke-width="3.5" stroke-linecap="butt"/>
<line x1="1269.0" y1="545" x2="1292.5" y2="545" stroke="#231F20" stroke-width="3.5" stroke-linecap="butt"/>
<circle cx="867.7" cy="560.4" r="6.35" fill="#fff" stroke="#231F20" stroke-width="2.4"/>
<circle cx="861.1" cy="571.1" r="6.35" fill="#fff" stroke="#231F20" stroke-width="2.4"/>
<circle cx="883.5" cy="563.5" r="6.35" fill="#fff" stroke="#231F20" stroke-width="2.4"/>
<circle cx="886.7" cy="587.5" r="6.35" fill="#fff" stroke="#231F20" stroke-width="2.4"/>
<circle cx="905.3" cy="603.9" r="6.35" fill="#fff" stroke="#231F20" stroke-width="2.4"/>
<circle cx="934" cy="563.5" r="6.35" fill="#9D9FA2" stroke="#231F20" stroke-width="2.4"/>
<circle cx="936.5" cy="562.2" r="6.35" fill="#9D9FA2" stroke="#231F20" stroke-width="2.4"/>
<circle cx="957.3" cy="546.7" r="6.35" fill="#9D9FA2" stroke="#231F20" stroke-width="2.4"/>
<circle cx="983.8" cy="530.7" r="6.35" fill="#9D9FA2" stroke="#231F20" stroke-width="2.4"/>
<circle cx="987.3" cy="575.2" r="6.35" fill="#9D9FA2" stroke="#231F20" stroke-width="2.4"/>
<circle cx="1014" cy="435" r="6.35" fill="#fff" stroke="#231F20" stroke-width="2.4"/>
<circle cx="1034.5" cy="377" r="6.35" fill="#fff" stroke="#231F20" stroke-width="2.4"/>
<circle cx="1067" cy="392" r="6.35" fill="#fff" stroke="#231F20" stroke-width="2.4"/>
<circle cx="1065.5" cy="408" r="6.35" fill="#fff" stroke="#231F20" stroke-width="2.4"/>
<circle cx="1077" cy="421" r="6.35" fill="#fff" stroke="#231F20" stroke-width="2.4"/>
<circle cx="1132" cy="441" r="6.35" fill="#9D9FA2" stroke="#231F20" stroke-width="2.4"/>
<circle cx="1136.5" cy="495" r="6.35" fill="#9D9FA2" stroke="#231F20" stroke-width="2.4"/>
<circle cx="1107" cy="529.5" r="6.35" fill="#9D9FA2" stroke="#231F20" stroke-width="2.4"/>
<circle cx="1145" cy="545" r="6.35" fill="#9D9FA2" stroke="#231F20" stroke-width="2.4"/>
<circle cx="1185" cy="410.5" r="6.35" fill="#fff" stroke="#231F20" stroke-width="2.4"/>
<circle cx="1210.5" cy="407" r="6.35" fill="#fff" stroke="#231F20" stroke-width="2.4"/>
<circle cx="1225" cy="412.5" r="6.35" fill="#fff" stroke="#231F20" stroke-width="2.4"/>
<circle cx="1215" cy="463.5" r="6.35" fill="#fff" stroke="#231F20" stroke-width="2.4"/>
<circle cx="1215" cy="506.5" r="6.35" fill="#fff" stroke="#231F20" stroke-width="2.4"/>
<circle cx="1293" cy="505" r="6.35" fill="#9D9FA2" stroke="#231F20" stroke-width="2.4"/>
<circle cx="1311" cy="508" r="6.35" fill="#9D9FA2" stroke="#231F20" stroke-width="2.4"/>
<circle cx="1306" cy="518.5" r="6.35" fill="#9D9FA2" stroke="#231F20" stroke-width="2.4"/>
<circle cx="1292" cy="561" r="6.35" fill="#9D9FA2" stroke="#231F20" stroke-width="2.4"/>
<circle cx="1257" cy="566" r="6.35" fill="#9D9FA2" stroke="#231F20" stroke-width="2.4"/>
<text x="887.5" y="539" font-size="33.5" text-anchor="middle" >d</text>
<text x="962.5" y="512" font-size="33.5" text-anchor="middle" >cd</text>
<text x="1052.5" y="361.5" font-size="33.5" text-anchor="middle" >a</text>
<text x="1127" y="408" font-size="33.5" text-anchor="middle" >bc</text>
<text x="1212" y="382.5" font-size="33.5" text-anchor="middle" >ab</text>
<text x="1284" y="473" font-size="33.5" text-anchor="middle" >cd</text>
<text x="891.5" y="699" font-size="24.5" text-anchor="middle" >5</text>
<text x="1044.5" y="699" font-size="24.5" text-anchor="middle" >5</text>
<text x="1116" y="699" font-size="24.5" text-anchor="middle" >4</text>
<text x="1201" y="699" font-size="24.5" text-anchor="middle" >5</text>
<text x="1277" y="699" font-size="24.5" text-anchor="middle" >5</text>
<text x="859" y="383.5" font-size="33.5" text-anchor="start" font-style="italic" >Log1</text>
<text x="658.6" y="412.6" font-size="34" text-anchor="start" font-weight="bold" >C</text>
<text transform="translate(713.7,740) rotate(-90)" x="-2.83" y="0" font-size="34.5" letter-spacing="-0.451">Relative expression</text>
<rect x="172" y="1028" width="72" height="133" fill="#fff" stroke="#231F20" stroke-width="3.5"/>
<rect x="244" y="1091.5" width="73" height="69.5" fill="#9D9FA2" stroke="#231F20" stroke-width="3.5"/>
<rect x="332.5" y="900" width="71.5" height="261" fill="#fff" stroke="#231F20" stroke-width="3.5"/>
<rect x="404" y="1001" width="72.5" height="160" fill="#9D9FA2" stroke="#231F20" stroke-width="3.5"/>
<rect x="492" y="918" width="73" height="243" fill="#fff" stroke="#231F20" stroke-width="3.5"/>
<rect x="565" y="1013" width="72.5" height="148" fill="#9D9FA2" stroke="#231F20" stroke-width="3.5"/>
<line x1="136.0" y1="811.5" x2="136.0" y2="1179.75" stroke="#231F20" stroke-width="3.5" stroke-linecap="butt"/>
<line x1="134.25" y1="1178" x2="665" y2="1178" stroke="#231F20" stroke-width="3.5" stroke-linecap="butt"/>
<line x1="126.2" y1="861.5" x2="136.0" y2="861.5" stroke="#231F20" stroke-width="3.3" stroke-linecap="butt"/>
<text x="76.64" y="872.7" font-size="34.8" letter-spacing="-1.809">0.6</text>
<line x1="126.2" y1="961.5" x2="136.0" y2="961.5" stroke="#231F20" stroke-width="3.3" stroke-linecap="butt"/>
<text x="76.64" y="972.7" font-size="34.8" letter-spacing="-2.053">0.4</text>
<line x1="126.2" y1="1061.5" x2="136.0" y2="1061.5" stroke="#231F20" stroke-width="3.3" stroke-linecap="butt"/>
<text x="76.64" y="1072.7" font-size="34.8" letter-spacing="-1.687">0.2</text>
<line x1="126.2" y1="1161" x2="136.0" y2="1161" stroke="#231F20" stroke-width="3.3" stroke-linecap="butt"/>
<text x="76.64" y="1172.2" font-size="34.8" letter-spacing="-1.896">0.0</text>
<line x1="243.5" y1="1178" x2="243.5" y2="1187.3" stroke="#231F20" stroke-width="3.3" stroke-linecap="butt"/>
<line x1="404" y1="1178" x2="404" y2="1187.3" stroke="#231F20" stroke-width="3.3" stroke-linecap="butt"/>
<line x1="565" y1="1178" x2="565" y2="1187.3" stroke="#231F20" stroke-width="3.3" stroke-linecap="butt"/>
<text x="239" y="1222.5" font-size="34" text-anchor="middle" >mock</text>
<text x="405" y="1222.5" font-size="34" text-anchor="middle" >1 dpi</text>
<text x="564" y="1222.5" font-size="34" text-anchor="middle" >2 dpi</text>
<line x1="208.0" y1="1014.5" x2="208.0" y2="1043" stroke="#231F20" stroke-width="3.5" stroke-linecap="butt"/>
<line x1="196.25" y1="1014.5" x2="219.75" y2="1014.5" stroke="#231F20" stroke-width="3.5" stroke-linecap="butt"/>
<line x1="196.25" y1="1043" x2="219.75" y2="1043" stroke="#231F20" stroke-width="3.5" stroke-linecap="butt"/>
<line x1="280.5" y1="1086" x2="280.5" y2="1100" stroke="#231F20" stroke-width="3.5" stroke-linecap="butt"/>
<line x1="268.75" y1="1086" x2="292.25" y2="1086" stroke="#231F20" stroke-width="3.5" stroke-linecap="butt"/>
<line x1="268.75" y1="1100" x2="292.25" y2="1100" stroke="#231F20" stroke-width="3.5" stroke-linecap="butt"/>
<line x1="368.25" y1="867.5" x2="368.25" y2="933.5" stroke="#231F20" stroke-width="3.5" stroke-linecap="butt"/>
<line x1="356.5" y1="867.5" x2="380.0" y2="867.5" stroke="#231F20" stroke-width="3.5" stroke-linecap="butt"/>
<line x1="356.5" y1="933.5" x2="380.0" y2="933.5" stroke="#231F20" stroke-width="3.5" stroke-linecap="butt"/>
<line x1="440.25" y1="984.5" x2="440.25" y2="1018.5" stroke="#231F20" stroke-width="3.5" stroke-linecap="butt"/>
<line x1="428.5" y1="984.5" x2="452.0" y2="984.5" stroke="#231F20" stroke-width="3.5" stroke-linecap="butt"/>
<line x1="428.5" y1="1018.5" x2="452.0" y2="1018.5" stroke="#231F20" stroke-width="3.5" stroke-linecap="butt"/>
<line x1="528.5" y1="906.5" x2="528.5" y2="930.5" stroke="#231F20" stroke-width="3.5" stroke-linecap="butt"/>
<line x1="516.75" y1="906.5" x2="540.25" y2="906.5" stroke="#231F20" stroke-width="3.5" stroke-linecap="butt"/>
<line x1="516.75" y1="930.5" x2="540.25" y2="930.5" stroke="#231F20" stroke-width="3.5" stroke-linecap="butt"/>
<line x1="601.25" y1="998" x2="601.25" y2="1028" stroke="#231F20" stroke-width="3.5" stroke-linecap="butt"/>
<line x1="589.5" y1="998" x2="613.0" y2="998" stroke="#231F20" stroke-width="3.5" stroke-linecap="butt"/>
<line x1="589.5" y1="1028" x2="613.0" y2="1028" stroke="#231F20" stroke-width="3.5" stroke-linecap="butt"/>
<circle cx="185.5" cy="991.5" r="6.35" fill="#fff" stroke="#231F20" stroke-width="2.4"/>
<circle cx="201.5" cy="1023" r="6.35" fill="#fff" stroke="#231F20" stroke-width="2.4"/>
<circle cx="179" cy="1043.5" r="6.35" fill="#fff" stroke="#231F20" stroke-width="2.4"/>
<circle cx="223.5" cy="1057" r="6.35" fill="#fff" stroke="#231F20" stroke-width="2.4"/>
<circle cx="253" cy="1075.5" r="6.35" fill="#9D9FA2" stroke="#231F20" stroke-width="2.4"/>
<circle cx="275" cy="1078.5" r="6.35" fill="#9D9FA2" stroke="#231F20" stroke-width="2.4"/>
<circle cx="302" cy="1094" r="6.35" fill="#9D9FA2" stroke="#231F20" stroke-width="2.4"/>
<circle cx="294" cy="1105" r="6.35" fill="#9D9FA2" stroke="#231F20" stroke-width="2.4"/>
<circle cx="306" cy="1109" r="6.35" fill="#9D9FA2" stroke="#231F20" stroke-width="2.4"/>
<circle cx="365.5" cy="832.5" r="6.35" fill="#fff" stroke="#231F20" stroke-width="2.4"/>
<circle cx="386" cy="827" r="6.35" fill="#fff" stroke="#231F20" stroke-width="2.4"/>
<circle cx="353.5" cy="888" r="6.35" fill="#fff" stroke="#231F20" stroke-width="2.4"/>
<circle cx="385.5" cy="972" r="6.35" fill="#fff" stroke="#231F20" stroke-width="2.4"/>
<circle cx="395" cy="981.5" r="6.35" fill="#fff" stroke="#231F20" stroke-width="2.4"/>
<circle cx="465" cy="958" r="6.35" fill="#9D9FA2" stroke="#231F20" stroke-width="2.4"/>
<circle cx="451.5" cy="998" r="6.35" fill="#9D9FA2" stroke="#231F20" stroke-width="2.4"/>
<circle cx="415.5" cy="1010.5" r="6.35" fill="#9D9FA2" stroke="#231F20" stroke-width="2.4"/>
<circle cx="425.5" cy="1039" r="6.35" fill="#9D9FA2" stroke="#231F20" stroke-width="2.4"/>
<circle cx="492.5" cy="923.5" r="6.35" fill="#fff" stroke="#231F20" stroke-width="2.4"/>
<circle cx="506" cy="958.5" r="6.35" fill="#fff" stroke="#231F20" stroke-width="2.4"/>
<circle cx="531" cy="901" r="6.35" fill="#fff" stroke="#231F20" stroke-width="2.4"/>
<circle cx="545" cy="890.5" r="6.35" fill="#fff" stroke="#231F20" stroke-width="2.4"/>
<circle cx="534.5" cy="920.5" r="6.35" fill="#fff" stroke="#231F20" stroke-width="2.4"/>
<circle cx="614" cy="961" r="6.35" fill="#9D9FA2" stroke="#231F20" stroke-width="2.4"/>
<circle cx="631.5" cy="1003.5" r="6.35" fill="#9D9FA2" stroke="#231F20" stroke-width="2.4"/>
<circle cx="626" cy="1024.5" r="6.35" fill="#9D9FA2" stroke="#231F20" stroke-width="2.4"/>
<circle cx="615.5" cy="1030" r="6.35" fill="#9D9FA2" stroke="#231F20" stroke-width="2.4"/>
<circle cx="612.5" cy="1047.5" r="6.35" fill="#9D9FA2" stroke="#231F20" stroke-width="2.4"/>
<text x="208.5" y="964" font-size="33.5" text-anchor="middle" >cd</text>
<text x="278" y="1044" font-size="33.5" text-anchor="middle" >d</text>
<text x="370" y="814" font-size="33.5" text-anchor="middle" >a</text>
<text x="445" y="938.5" font-size="33.5" text-anchor="middle" >bc</text>
<text x="531" y="880" font-size="33.5" text-anchor="middle" >ab</text>
<text x="599" y="938.5" font-size="33.5" text-anchor="middle" >c</text>
<text x="202.5" y="1146" font-size="24.5" text-anchor="middle" >4</text>
<text x="276.5" y="1146" font-size="24.5" text-anchor="middle" >5</text>
<text x="363.5" y="1146" font-size="24.5" text-anchor="middle" >5</text>
<text x="434" y="1146" font-size="24.5" text-anchor="middle" >4</text>
<text x="525" y="1146" font-size="24.5" text-anchor="middle" >5</text>
<text x="595" y="1146" font-size="24.5" text-anchor="middle" >5</text>
<text x="168.7" y="842" font-size="33.5" text-anchor="start" font-style="italic" >Log4</text>
<text x="-1.5" y="841.5" font-size="34" text-anchor="start" font-weight="bold" >D</text>
<text transform="translate(43.5,1153.5) rotate(-90)" x="-2.83" y="0" font-size="34.5" letter-spacing="-0.406">Relative expression</text>
<rect x="853" y="1081.5" width="72" height="80.5" fill="#fff" stroke="#231F20" stroke-width="3.5"/>
<rect x="925" y="928" width="72.5" height="234" fill="#9D9FA2" stroke="#231F20" stroke-width="3.5"/>
<rect x="1013" y="954" width="72.5" height="208" fill="#fff" stroke="#231F20" stroke-width="3.5"/>
<rect x="1085.5" y="881" width="72.5" height="281" fill="#9D9FA2" stroke="#231F20" stroke-width="3.5"/>
<rect x="1173" y="1060" width="72.5" height="102" fill="#fff" stroke="#231F20" stroke-width="3.5"/>
<rect x="1245.5" y="1020" width="73.0" height="142" fill="#9D9FA2" stroke="#231F20" stroke-width="3.5"/>
<line x1="818.0" y1="812.5" x2="818.0" y2="1180.45" stroke="#231F20" stroke-width="3.5" stroke-linecap="butt"/>
<line x1="816.25" y1="1178.7" x2="1348" y2="1178.7" stroke="#231F20" stroke-width="3.5" stroke-linecap="butt"/>
<line x1="808.2" y1="910.5" x2="818.0" y2="910.5" stroke="#231F20" stroke-width="3.3" stroke-linecap="butt"/>
<text x="757.34" y="921.6" font-size="34.8" letter-spacing="-1.853">0.4</text>
<line x1="808.2" y1="1036" x2="818.0" y2="1036" stroke="#231F20" stroke-width="3.3" stroke-linecap="butt"/>
<text x="757.34" y="1047.1" font-size="34.8" letter-spacing="-1.487">0.2</text>
<line x1="808.2" y1="1161.5" x2="818.0" y2="1161.5" stroke="#231F20" stroke-width="3.3" stroke-linecap="butt"/>
<text x="757.34" y="1172.6" font-size="34.8" letter-spacing="-1.696">0.0</text>
<line x1="925.5" y1="1178.7" x2="925.5" y2="1188.0" stroke="#231F20" stroke-width="3.3" stroke-linecap="butt"/>
<line x1="1085.5" y1="1178.7" x2="1085.5" y2="1188.0" stroke="#231F20" stroke-width="3.3" stroke-linecap="butt"/>
<line x1="1246" y1="1178.7" x2="1246" y2="1188.0" stroke="#231F20" stroke-width="3.3" stroke-linecap="butt"/>
<text x="933" y="1223.2" font-size="34" text-anchor="middle" >mock</text>
<text x="1090" y="1223.2" font-size="34" text-anchor="middle" >1 dpi</text>
<text x="1251.5" y="1223.2" font-size="34" text-anchor="middle" >2 dpi</text>
<line x1="889.0" y1="1078" x2="889.0" y2="1084.5" stroke="#231F20" stroke-width="3.5" stroke-linecap="butt"/>
<line x1="877.25" y1="1078" x2="900.75" y2="1078" stroke="#231F20" stroke-width="3.5" stroke-linecap="butt"/>
<line x1="877.25" y1="1084.5" x2="900.75" y2="1084.5" stroke="#231F20" stroke-width="3.5" stroke-linecap="butt"/>
<line x1="961.25" y1="907.5" x2="961.25" y2="950" stroke="#231F20" stroke-width="3.5" stroke-linecap="butt"/>
<line x1="949.5" y1="907.5" x2="973.0" y2="907.5" stroke="#231F20" stroke-width="3.5" stroke-linecap="butt"/>
<line x1="949.5" y1="950" x2="973.0" y2="950" stroke="#231F20" stroke-width="3.5" stroke-linecap="butt"/>
<line x1="1049.25" y1="928.5" x2="1049.25" y2="980" stroke="#231F20" stroke-width="3.5" stroke-linecap="butt"/>
<line x1="1037.5" y1="928.5" x2="1061.0" y2="928.5" stroke="#231F20" stroke-width="3.5" stroke-linecap="butt"/>
<line x1="1037.5" y1="980" x2="1061.0" y2="980" stroke="#231F20" stroke-width="3.5" stroke-linecap="butt"/>
<line x1="1121.75" y1="859" x2="1121.75" y2="904.5" stroke="#231F20" stroke-width="3.5" stroke-linecap="butt"/>
<line x1="1110.0" y1="859" x2="1133.5" y2="859" stroke="#231F20" stroke-width="3.5" stroke-linecap="butt"/>
<line x1="1110.0" y1="904.5" x2="1133.5" y2="904.5" stroke="#231F20" stroke-width="3.5" stroke-linecap="butt"/>
<line x1="1209.25" y1="1048" x2="1209.25" y2="1072.5" stroke="#231F20" stroke-width="3.5" stroke-linecap="butt"/>
<line x1="1197.5" y1="1048" x2="1221.0" y2="1048" stroke="#231F20" stroke-width="3.5" stroke-linecap="butt"/>
<line x1="1197.5" y1="1072.5" x2="1221.0" y2="1072.5" stroke="#231F20" stroke-width="3.5" stroke-linecap="butt"/>
<line x1="1282.0" y1="1002.5" x2="1282.0" y2="1038.5" stroke="#231F20" stroke-width="3.5" stroke-linecap="butt"/>
<line x1="1270.25" y1="1002.5" x2="1293.75" y2="1002.5" stroke="#231F20" stroke-width="3.5" stroke-linecap="butt"/>
<line x1="1270.25" y1="1038.5" x2="1293.75" y2="1038.5" stroke="#231F20" stroke-width="3.5" stroke-linecap="butt"/>
<circle cx="866.5" cy="1080" r="6.35" fill="#fff" stroke="#231F20" stroke-width="2.4"/>
<circle cx="883" cy="1078" r="6.35" fill="#fff" stroke="#231F20" stroke-width="2.4"/>
<circle cx="904" cy="1087.5" r="6.35" fill="#fff" stroke="#231F20" stroke-width="2.4"/>
<circle cx="975.5" cy="878" r="6.35" fill="#9D9FA2" stroke="#231F20" stroke-width="2.4"/>
<circle cx="947.5" cy="912" r="6.35" fill="#9D9FA2" stroke="#231F20" stroke-width="2.4"/>
<circle cx="975" cy="910.5" r="6.35" fill="#9D9FA2" stroke="#231F20" stroke-width="2.4"/>
<circle cx="985.5" cy="938.5" r="6.35" fill="#9D9FA2" stroke="#231F20" stroke-width="2.4"/>
<circle cx="987" cy="1006" r="6.35" fill="#9D9FA2" stroke="#231F20" stroke-width="2.4"/>
<circle cx="1034.5" cy="907.5" r="6.35" fill="#fff" stroke="#231F20" stroke-width="2.4"/>
<circle cx="1046.5" cy="962" r="6.35" fill="#fff" stroke="#231F20" stroke-width="2.4"/>
<circle cx="1020.5" cy="995" r="6.35" fill="#fff" stroke="#231F20" stroke-width="2.4"/>
<circle cx="1097" cy="828" r="6.35" fill="#9D9FA2" stroke="#231F20" stroke-width="2.4"/>
<circle cx="1145.5" cy="844.5" r="6.35" fill="#9D9FA2" stroke="#231F20" stroke-width="2.4"/>
<circle cx="1094.5" cy="862.5" r="6.35" fill="#9D9FA2" stroke="#231F20" stroke-width="2.4"/>
<circle cx="1117" cy="940.5" r="6.35" fill="#9D9FA2" stroke="#231F20" stroke-width="2.4"/>
<circle cx="1143" cy="932" r="6.35" fill="#9D9FA2" stroke="#231F20" stroke-width="2.4"/>
<circle cx="1174" cy="1031" r="6.35" fill="#fff" stroke="#231F20" stroke-width="2.4"/>
<circle cx="1236.5" cy="1031.5" r="6.35" fill="#fff" stroke="#231F20" stroke-width="2.4"/>
<circle cx="1226" cy="1066.5" r="6.35" fill="#fff" stroke="#231F20" stroke-width="2.4"/>
<circle cx="1211" cy="1085.5" r="6.35" fill="#fff" stroke="#231F20" stroke-width="2.4"/>
<circle cx="1227" cy="1085.5" r="6.35" fill="#fff" stroke="#231F20" stroke-width="2.4"/>
<circle cx="1292.5" cy="952.5" r="6.35" fill="#9D9FA2" stroke="#231F20" stroke-width="2.4"/>
<circle cx="1297" cy="1023" r="6.35" fill="#9D9FA2" stroke="#231F20" stroke-width="2.4"/>
<circle cx="1267" cy="1034.5" r="6.35" fill="#9D9FA2" stroke="#231F20" stroke-width="2.4"/>
<circle cx="1292.5" cy="1031.5" r="6.35" fill="#9D9FA2" stroke="#231F20" stroke-width="2.4"/>
<circle cx="1307" cy="1062.5" r="6.35" fill="#9D9FA2" stroke="#231F20" stroke-width="2.4"/>
<text x="887.5" y="1056" font-size="33.5" text-anchor="middle" >c</text>
<text x="960" y="866" font-size="33.5" text-anchor="middle" >a</text>
<text x="1048" y="886" font-size="33.5" text-anchor="middle" >ab</text>
<text x="1123.5" y="820" font-size="33.5" text-anchor="middle" >a</text>
<text x="1215.5" y="1010.5" font-size="33.5" text-anchor="middle" >c</text>
<text x="1284" y="932" font-size="33.5" text-anchor="middle" >bc</text>
<text x="884" y="1146" font-size="24.5" text-anchor="middle" >3</text>
<text x="957" y="1146" font-size="24.5" text-anchor="middle" >3</text>
<text x="1043" y="1146" font-size="24.5" text-anchor="middle" >5</text>
<text x="1121.5" y="1146" font-size="24.5" text-anchor="middle" >4</text>
<text x="1207.5" y="1146" font-size="24.5" text-anchor="middle" >5</text>
<text x="1282" y="1146" font-size="24.5" text-anchor="middle" >5</text>
<text x="849" y="829" font-size="33.5" text-anchor="start" font-style="italic" >Cyp735a</text>
<text x="658.8" y="857" font-size="34" text-anchor="start" font-weight="bold" >E</text>
<text transform="translate(709,1168.6) rotate(-90)" x="-2.83" y="0" font-size="34.5" letter-spacing="-0.428">Relative expression</text>
<rect x="200.5" y="1470" width="91.5" height="190" fill="#fff" stroke="#231F20" stroke-width="2.9"/>
<rect x="292" y="1533" width="91.5" height="127" fill="#9D9FA2" stroke="#231F20" stroke-width="2.9"/>
<rect x="404" y="1388.5" width="91.5" height="271.5" fill="#fff" stroke="#231F20" stroke-width="2.9"/>
<rect x="495.5" y="1415.5" width="91.5" height="244.5" fill="#9D9FA2" stroke="#231F20" stroke-width="2.9"/>
<line x1="150.4" y1="1276" x2="150.4" y2="1680.7" stroke="#231F20" stroke-width="3.4" stroke-linecap="butt"/>
<line x1="148.70000000000002" y1="1679" x2="632.5" y2="1679" stroke="#231F20" stroke-width="3.4" stroke-linecap="butt"/>
<line x1="140.6" y1="1335.5" x2="150.4" y2="1335.5" stroke="#231F20" stroke-width="2.8" stroke-linecap="butt"/>
<text x="98.2 113.0 120.8" y="1345.5" font-size="35.5">1.5</text>
<line x1="140.6" y1="1444" x2="150.4" y2="1444" stroke="#231F20" stroke-width="2.8" stroke-linecap="butt"/>
<text x="98.2 113.0 120.8" y="1454.0" font-size="35.5">1.0</text>
<line x1="140.6" y1="1552" x2="150.4" y2="1552" stroke="#231F20" stroke-width="2.8" stroke-linecap="butt"/>
<text x="98.2 113.0 120.8" y="1562.0" font-size="35.5">0.5</text>
<line x1="140.6" y1="1660" x2="150.4" y2="1660" stroke="#231F20" stroke-width="2.8" stroke-linecap="butt"/>
<text x="98.2 113.0 120.8" y="1670.0" font-size="35.5">0.0</text>
<line x1="292" y1="1679" x2="292" y2="1687.2" stroke="#231F20" stroke-width="2.8" stroke-linecap="butt"/>
<line x1="495" y1="1679" x2="495" y2="1687.2" stroke="#231F20" stroke-width="2.8" stroke-linecap="butt"/>
<text x="287.5" y="1732.5" font-size="35" text-anchor="middle" >mock</text>
<text x="495" y="1730" font-size="35" text-anchor="middle" >2 dpi</text>
<line x1="246.25" y1="1461.5" x2="246.25" y2="1479" stroke="#231F20" stroke-width="2.8" stroke-linecap="butt"/>
<line x1="231.1" y1="1461.5" x2="261.4" y2="1461.5" stroke="#231F20" stroke-width="2.8" stroke-linecap="butt"/>
<line x1="231.1" y1="1479" x2="261.4" y2="1479" stroke="#231F20" stroke-width="2.8" stroke-linecap="butt"/>
<line x1="337.75" y1="1527.3" x2="337.75" y2="1539.4" stroke="#231F20" stroke-width="2.8" stroke-linecap="butt"/>
<line x1="322.6" y1="1527.3" x2="352.9" y2="1527.3" stroke="#231F20" stroke-width="2.8" stroke-linecap="butt"/>
<line x1="322.6" y1="1539.4" x2="352.9" y2="1539.4" stroke="#231F20" stroke-width="2.8" stroke-linecap="butt"/>
<line x1="449.75" y1="1377.3" x2="449.75" y2="1400" stroke="#231F20" stroke-width="2.8" stroke-linecap="butt"/>
<line x1="434.6" y1="1377.3" x2="464.9" y2="1377.3" stroke="#231F20" stroke-width="2.8" stroke-linecap="butt"/>
<line x1="434.6" y1="1400" x2="464.9" y2="1400" stroke="#231F20" stroke-width="2.8" stroke-linecap="butt"/>
<line x1="541.25" y1="1404.3" x2="541.25" y2="1428.4" stroke="#231F20" stroke-width="2.8" stroke-linecap="butt"/>
<line x1="526.1" y1="1404.3" x2="556.4" y2="1404.3" stroke="#231F20" stroke-width="2.8" stroke-linecap="butt"/>
<line x1="526.1" y1="1428.4" x2="556.4" y2="1428.4" stroke="#231F20" stroke-width="2.8" stroke-linecap="butt"/>
<circle cx="253.6" cy="1375.3" r="5.75" fill="#fff" stroke="#231F20" stroke-width="2.1"/>
<circle cx="279.1" cy="1418.4" r="5.75" fill="#fff" stroke="#231F20" stroke-width="2.1"/>
<circle cx="216.1" cy="1433.5" r="5.75" fill="#fff" stroke="#231F20" stroke-width="2.1"/>
<circle cx="275.6" cy="1444.6" r="5.75" fill="#fff" stroke="#231F20" stroke-width="2.1"/>
<circle cx="276.1" cy="1455" r="5.75" fill="#fff" stroke="#231F20" stroke-width="2.1"/>
<circle cx="209.5" cy="1466.3" r="5.75" fill="#fff" stroke="#231F20" stroke-width="2.1"/>
<circle cx="207.2" cy="1469.8" r="5.75" fill="#fff" stroke="#231F20" stroke-width="2.1"/>
<circle cx="219.1" cy="1471.9" r="5.75" fill="#fff" stroke="#231F20" stroke-width="2.1"/>
<circle cx="260.7" cy="1470.3" r="5.75" fill="#fff" stroke="#231F20" stroke-width="2.1"/>
<circle cx="274.6" cy="1475.9" r="5.75" fill="#fff" stroke="#231F20" stroke-width="2.1"/>
<circle cx="205.7" cy="1479.9" r="5.75" fill="#fff" stroke="#231F20" stroke-width="2.1"/>
<circle cx="251.4" cy="1484.5" r="5.75" fill="#fff" stroke="#231F20" stroke-width="2.1"/>
<circle cx="247.6" cy="1482.2" r="5.75" fill="#fff" stroke="#231F20" stroke-width="2.1"/>
<circle cx="268.3" cy="1482.4" r="5.75" fill="#fff" stroke="#231F20" stroke-width="2.1"/>
<circle cx="206" cy="1503.1" r="5.75" fill="#fff" stroke="#231F20" stroke-width="2.1"/>
<circle cx="207.2" cy="1511.2" r="5.75" fill="#fff" stroke="#231F20" stroke-width="2.1"/>
<circle cx="224.1" cy="1515.5" r="5.75" fill="#fff" stroke="#231F20" stroke-width="2.1"/>
<circle cx="226.2" cy="1525.6" r="5.75" fill="#fff" stroke="#231F20" stroke-width="2.1"/>
<circle cx="320.5" cy="1495.3" r="5.75" fill="#9D9FA2" stroke="#231F20" stroke-width="2.1"/>
<circle cx="327" cy="1510.7" r="5.75" fill="#9D9FA2" stroke="#231F20" stroke-width="2.1"/>
<circle cx="313.7" cy="1519.3" r="5.75" fill="#9D9FA2" stroke="#231F20" stroke-width="2.1"/>
<circle cx="320" cy="1527.3" r="5.75" fill="#9D9FA2" stroke="#231F20" stroke-width="2.1"/>
<circle cx="325.8" cy="1534.9" r="5.75" fill="#9D9FA2" stroke="#231F20" stroke-width="2.1"/>
<circle cx="332.8" cy="1546.8" r="5.75" fill="#9D9FA2" stroke="#231F20" stroke-width="2.1"/>
<circle cx="320.2" cy="1562.1" r="5.75" fill="#9D9FA2" stroke="#231F20" stroke-width="2.1"/>
<circle cx="344.4" cy="1558.4" r="5.75" fill="#9D9FA2" stroke="#231F20" stroke-width="2.1"/>
<circle cx="341.4" cy="1559.1" r="5.75" fill="#9D9FA2" stroke="#231F20" stroke-width="2.1"/>
<circle cx="363.6" cy="1524.8" r="5.75" fill="#9D9FA2" stroke="#231F20" stroke-width="2.1"/>
<circle cx="375.7" cy="1525.1" r="5.75" fill="#9D9FA2" stroke="#231F20" stroke-width="2.1"/>
<circle cx="363.6" cy="1539.4" r="5.75" fill="#9D9FA2" stroke="#231F20" stroke-width="2.1"/>
<circle cx="468" cy="1322" r="5.75" fill="#fff" stroke="#231F20" stroke-width="2.1"/>
<circle cx="410.3" cy="1346.3" r="5.75" fill="#fff" stroke="#231F20" stroke-width="2.1"/>
<circle cx="441.3" cy="1352.8" r="5.75" fill="#fff" stroke="#231F20" stroke-width="2.1"/>
<circle cx="445.8" cy="1347.5" r="5.75" fill="#fff" stroke="#231F20" stroke-width="2.1"/>
<circle cx="485.2" cy="1348.5" r="5.75" fill="#fff" stroke="#231F20" stroke-width="2.1"/>
<circle cx="476.6" cy="1366.9" r="5.75" fill="#fff" stroke="#231F20" stroke-width="2.1"/>
<circle cx="432.7" cy="1376" r="5.75" fill="#fff" stroke="#231F20" stroke-width="2.1"/>
<circle cx="440" cy="1370.5" r="5.75" fill="#fff" stroke="#231F20" stroke-width="2.1"/>
<circle cx="464" cy="1381.1" r="5.75" fill="#fff" stroke="#231F20" stroke-width="2.1"/>
<circle cx="457.2" cy="1388.9" r="5.75" fill="#fff" stroke="#231F20" stroke-width="2.1"/>
<circle cx="407.5" cy="1393.2" r="5.75" fill="#fff" stroke="#231F20" stroke-width="2.1"/>
<circle cx="430.4" cy="1396.2" r="5.75" fill="#fff" stroke="#231F20" stroke-width="2.1"/>
<circle cx="431" cy="1399.5" r="5.75" fill="#fff" stroke="#231F20" stroke-width="2.1"/>
<circle cx="433" cy="1397.2" r="5.75" fill="#fff" stroke="#231F20" stroke-width="2.1"/>
<circle cx="461.5" cy="1402.7" r="5.75" fill="#fff" stroke="#231F20" stroke-width="2.1"/>
<circle cx="469" cy="1422.4" r="5.75" fill="#fff" stroke="#231F20" stroke-width="2.1"/>
<circle cx="484.7" cy="1449.4" r="5.75" fill="#fff" stroke="#231F20" stroke-width="2.1"/>
<circle cx="457.2" cy="1537.4" r="5.75" fill="#fff" stroke="#231F20" stroke-width="2.1"/>
<circle cx="528.3" cy="1293.2" r="5.75" fill="#9D9FA2" stroke="#231F20" stroke-width="2.1"/>
<circle cx="576.1" cy="1343.5" r="5.75" fill="#9D9FA2" stroke="#231F20" stroke-width="2.1"/>
<circle cx="565.9" cy="1354.9" r="5.75" fill="#9D9FA2" stroke="#231F20" stroke-width="2.1"/>
<circle cx="531" cy="1368.8" r="5.75" fill="#9D9FA2" stroke="#231F20" stroke-width="2.1"/>
<circle cx="573.2" cy="1388.9" r="5.75" fill="#9D9FA2" stroke="#231F20" stroke-width="2.1"/>
<circle cx="541.6" cy="1403.7" r="5.75" fill="#9D9FA2" stroke="#231F20" stroke-width="2.1"/>
<circle cx="549.3" cy="1413.2" r="5.75" fill="#9D9FA2" stroke="#231F20" stroke-width="2.1"/>
<circle cx="538.1" cy="1418.2" r="5.75" fill="#9D9FA2" stroke="#231F20" stroke-width="2.1"/>
<circle cx="577.8" cy="1420.3" r="5.75" fill="#9D9FA2" stroke="#231F20" stroke-width="2.1"/>
<circle cx="524.8" cy="1426.7" r="5.75" fill="#9D9FA2" stroke="#231F20" stroke-width="2.1"/>
<circle cx="562" cy="1434.8" r="5.75" fill="#9D9FA2" stroke="#231F20" stroke-width="2.1"/>
<circle cx="582.8" cy="1440.7" r="5.75" fill="#9D9FA2" stroke="#231F20" stroke-width="2.1"/>
<circle cx="541.8" cy="1453.5" r="5.75" fill="#9D9FA2" stroke="#231F20" stroke-width="2.1"/>
<circle cx="548.3" cy="1445" r="5.75" fill="#9D9FA2" stroke="#231F20" stroke-width="2.1"/>
<circle cx="546" cy="1460.2" r="5.75" fill="#9D9FA2" stroke="#231F20" stroke-width="2.1"/>
<circle cx="513.6" cy="1465.2" r="5.75" fill="#9D9FA2" stroke="#231F20" stroke-width="2.1"/>
<circle cx="564.9" cy="1479.5" r="5.75" fill="#9D9FA2" stroke="#231F20" stroke-width="2.1"/>
<circle cx="585.5" cy="1481.4" r="5.75" fill="#9D9FA2" stroke="#231F20" stroke-width="2.1"/>
<text x="250" y="1644" font-size="25.5" text-anchor="middle" >18</text>
<text x="338.5" y="1644" font-size="25.5" text-anchor="middle" >12</text>
<text x="447.5" y="1644" font-size="25.5" text-anchor="middle" >18</text>
<text x="541" y="1644" font-size="25.5" text-anchor="middle" >18</text>
<text x="345" y="1467.5" font-size="25.5" text-anchor="middle" >0.000</text>
<text x="551" y="1274" font-size="25.5" text-anchor="middle" >0.029</text>
<text x="202.5" y="1305" font-size="34.5" text-anchor="start" >iP</text>
<text x="10.8" y="1305.4" font-size="34" text-anchor="start" font-weight="bold" >F</text>
<text transform="translate(65.3,1604.2) rotate(-90)" x="-2.52" y="0" font-size="35.5" letter-spacing="-0.257">[iP] pmol / g FW</text>
<rect x="905.5" y="1456" width="88.5" height="201.79999999999995" fill="#fff" stroke="#231F20" stroke-width="2.9"/>
<rect x="994" y="1490" width="89.5" height="167.79999999999995" fill="#9D9FA2" stroke="#231F20" stroke-width="2.9"/>
<rect x="1102.5" y="1405.5" width="88.5" height="252.29999999999995" fill="#fff" stroke="#231F20" stroke-width="2.9"/>
<rect x="1191" y="1362.5" width="89" height="295.29999999999995" fill="#9D9FA2" stroke="#231F20" stroke-width="2.9"/>
<line x1="860.8" y1="1273" x2="860.8" y2="1678.6000000000001" stroke="#231F20" stroke-width="3.4" stroke-linecap="butt"/>
<line x1="859.0999999999999" y1="1676.9" x2="1327.5" y2="1676.9" stroke="#231F20" stroke-width="3.4" stroke-linecap="butt"/>
<line x1="851.0" y1="1360" x2="860.8" y2="1360" stroke="#231F20" stroke-width="2.8" stroke-linecap="butt"/>
<text x="780.42" y="1370.4" font-size="35.5" letter-spacing="-0.014">0.75</text>
<line x1="851.0" y1="1459" x2="860.8" y2="1459" stroke="#231F20" stroke-width="2.8" stroke-linecap="butt"/>
<text x="780.42" y="1469.4" font-size="35.5" letter-spacing="-0.050">0.50</text>
<line x1="851.0" y1="1558.5" x2="860.8" y2="1558.5" stroke="#231F20" stroke-width="2.8" stroke-linecap="butt"/>
<text x="780.42" y="1568.9" font-size="35.5" letter-spacing="-0.014">0.25</text>
<line x1="851.0" y1="1657.5" x2="860.8" y2="1657.5" stroke="#231F20" stroke-width="2.8" stroke-linecap="butt"/>
<text x="780.42" y="1667.9" font-size="35.5" letter-spacing="-1.750">0.00</text>
<line x1="994" y1="1676.9" x2="994" y2="1685.1000000000001" stroke="#231F20" stroke-width="2.8" stroke-linecap="butt"/>
<line x1="1191" y1="1676.9" x2="1191" y2="1685.1000000000001" stroke="#231F20" stroke-width="2.8" stroke-linecap="butt"/>
<text x="996.5" y="1726" font-size="35" text-anchor="middle" >mock</text>
<text x="1192.5" y="1726" font-size="35" text-anchor="middle" >2 dpi</text>
<line x1="949.75" y1="1445.7" x2="949.75" y2="1466.9" stroke="#231F20" stroke-width="2.8" stroke-linecap="butt"/>
<line x1="935.0" y1="1445.7" x2="964.5" y2="1445.7" stroke="#231F20" stroke-width="2.8" stroke-linecap="butt"/>
<line x1="935.0" y1="1466.9" x2="964.5" y2="1466.9" stroke="#231F20" stroke-width="2.8" stroke-linecap="butt"/>
<line x1="1038.75" y1="1481.8" x2="1038.75" y2="1499.3" stroke="#231F20" stroke-width="2.8" stroke-linecap="butt"/>
<line x1="1024.0" y1="1481.8" x2="1053.5" y2="1481.8" stroke="#231F20" stroke-width="2.8" stroke-linecap="butt"/>
<line x1="1024.0" y1="1499.3" x2="1053.5" y2="1499.3" stroke="#231F20" stroke-width="2.8" stroke-linecap="butt"/>
<line x1="1146.75" y1="1387.4" x2="1146.75" y2="1423.9" stroke="#231F20" stroke-width="2.8" stroke-linecap="butt"/>
<line x1="1132.0" y1="1387.4" x2="1161.5" y2="1387.4" stroke="#231F20" stroke-width="2.8" stroke-linecap="butt"/>
<line x1="1132.0" y1="1423.9" x2="1161.5" y2="1423.9" stroke="#231F20" stroke-width="2.8" stroke-linecap="butt"/>
<line x1="1235.5" y1="1352.5" x2="1235.5" y2="1375" stroke="#231F20" stroke-width="2.8" stroke-linecap="butt"/>
<line x1="1220.75" y1="1352.5" x2="1250.25" y2="1352.5" stroke="#231F20" stroke-width="2.8" stroke-linecap="butt"/>
<line x1="1220.75" y1="1375" x2="1250.25" y2="1375" stroke="#231F20" stroke-width="2.8" stroke-linecap="butt"/>
<circle cx="914.3" cy="1378.1" r="5.75" fill="#fff" stroke="#231F20" stroke-width="2.1"/>
<circle cx="938.6" cy="1388.1" r="5.75" fill="#fff" stroke="#231F20" stroke-width="2.1"/>
<circle cx="976.3" cy="1371.5" r="5.75" fill="#fff" stroke="#231F20" stroke-width="2.1"/>
<circle cx="965.7" cy="1413.3" r="5.75" fill="#fff" stroke="#231F20" stroke-width="2.1"/>
<circle cx="975.3" cy="1429.2" r="5.75" fill="#fff" stroke="#231F20" stroke-width="2.1"/>
<circle cx="966.9" cy="1434.8" r="5.75" fill="#fff" stroke="#231F20" stroke-width="2.1"/>
<circle cx="915.2" cy="1444.5" r="5.75" fill="#fff" stroke="#231F20" stroke-width="2.1"/>
<circle cx="977.5" cy="1460" r="5.75" fill="#fff" stroke="#231F20" stroke-width="2.1"/>
<circle cx="907.4" cy="1465.3" r="5.75" fill="#fff" stroke="#231F20" stroke-width="2.1"/>
<circle cx="973.5" cy="1471.2" r="5.75" fill="#fff" stroke="#231F20" stroke-width="2.1"/>
<circle cx="933.6" cy="1470" r="5.75" fill="#fff" stroke="#231F20" stroke-width="2.1"/>
<circle cx="921.8" cy="1473.4" r="5.75" fill="#fff" stroke="#231F20" stroke-width="2.1"/>
<circle cx="912.1" cy="1490.9" r="5.75" fill="#fff" stroke="#231F20" stroke-width="2.1"/>
<circle cx="913.3" cy="1484.6" r="5.75" fill="#fff" stroke="#231F20" stroke-width="2.1"/>
<circle cx="948.9" cy="1500.2" r="5.75" fill="#fff" stroke="#231F20" stroke-width="2.1"/>
<circle cx="938.3" cy="1508.6" r="5.75" fill="#fff" stroke="#231F20" stroke-width="2.1"/>
<circle cx="957.9" cy="1514.6" r="5.75" fill="#fff" stroke="#231F20" stroke-width="2.1"/>
<circle cx="906.8" cy="1513.9" r="5.75" fill="#fff" stroke="#231F20" stroke-width="2.1"/>
<circle cx="1063.2" cy="1440.7" r="5.75" fill="#9D9FA2" stroke="#231F20" stroke-width="2.1"/>
<circle cx="1017.7" cy="1451.3" r="5.75" fill="#9D9FA2" stroke="#231F20" stroke-width="2.1"/>
<circle cx="1025.5" cy="1455.7" r="5.75" fill="#9D9FA2" stroke="#231F20" stroke-width="2.1"/>
<circle cx="1030.2" cy="1483.7" r="5.75" fill="#9D9FA2" stroke="#231F20" stroke-width="2.1"/>
<circle cx="1044.5" cy="1488.1" r="5.75" fill="#9D9FA2" stroke="#231F20" stroke-width="2.1"/>
<circle cx="1015.2" cy="1495.2" r="5.75" fill="#9D9FA2" stroke="#231F20" stroke-width="2.1"/>
<circle cx="1044.5" cy="1502.4" r="5.75" fill="#9D9FA2" stroke="#231F20" stroke-width="2.1"/>
<circle cx="1035.2" cy="1498" r="5.75" fill="#9D9FA2" stroke="#231F20" stroke-width="2.1"/>
<circle cx="1054.2" cy="1498.7" r="5.75" fill="#9D9FA2" stroke="#231F20" stroke-width="2.1"/>
<circle cx="1023.3" cy="1513.6" r="5.75" fill="#9D9FA2" stroke="#231F20" stroke-width="2.1"/>
<circle cx="1047.6" cy="1528.6" r="5.75" fill="#9D9FA2" stroke="#231F20" stroke-width="2.1"/>
<circle cx="1038" cy="1534.5" r="5.75" fill="#9D9FA2" stroke="#231F20" stroke-width="2.1"/>
<circle cx="1117.4" cy="1313.3" r="5.75" fill="#fff" stroke="#231F20" stroke-width="2.1"/>
<circle cx="1177.6" cy="1311.1" r="5.75" fill="#fff" stroke="#231F20" stroke-width="2.1"/>
<circle cx="1165.7" cy="1328.9" r="5.75" fill="#fff" stroke="#231F20" stroke-width="2.1"/>
<circle cx="1175.1" cy="1340.4" r="5.75" fill="#fff" stroke="#231F20" stroke-width="2.1"/>
<circle cx="1109.9" cy="1348.2" r="5.75" fill="#fff" stroke="#231F20" stroke-width="2.1"/>
<circle cx="1122.7" cy="1357.5" r="5.75" fill="#fff" stroke="#231F20" stroke-width="2.1"/>
<circle cx="1128.3" cy="1363.1" r="5.75" fill="#fff" stroke="#231F20" stroke-width="2.1"/>
<circle cx="1138.6" cy="1366.2" r="5.75" fill="#fff" stroke="#231F20" stroke-width="2.1"/>
<circle cx="1148.9" cy="1378.1" r="5.75" fill="#fff" stroke="#231F20" stroke-width="2.1"/>
<circle cx="1148" cy="1388.1" r="5.75" fill="#fff" stroke="#231F20" stroke-width="2.1"/>
<circle cx="1114.9" cy="1389.6" r="5.75" fill="#fff" stroke="#231F20" stroke-width="2.1"/>
<circle cx="1123.3" cy="1406.8" r="5.75" fill="#fff" stroke="#231F20" stroke-width="2.1"/>
<circle cx="1160.4" cy="1455.7" r="5.75" fill="#fff" stroke="#231F20" stroke-width="2.1"/>
<circle cx="1164.5" cy="1464.7" r="5.75" fill="#fff" stroke="#231F20" stroke-width="2.1"/>
<circle cx="1113.7" cy="1493.1" r="5.75" fill="#fff" stroke="#231F20" stroke-width="2.1"/>
<circle cx="1151.7" cy="1505.2" r="5.75" fill="#fff" stroke="#231F20" stroke-width="2.1"/>
<circle cx="1180.7" cy="1537.9" r="5.75" fill="#fff" stroke="#231F20" stroke-width="2.1"/>
<circle cx="1147.3" cy="1553.5" r="5.75" fill="#fff" stroke="#231F20" stroke-width="2.1"/>
<circle cx="1229.9" cy="1291.5" r="5.75" fill="#9D9FA2" stroke="#231F20" stroke-width="2.1"/>
<circle cx="1262" cy="1292.7" r="5.75" fill="#9D9FA2" stroke="#231F20" stroke-width="2.1"/>
<circle cx="1276.6" cy="1308.3" r="5.75" fill="#9D9FA2" stroke="#231F20" stroke-width="2.1"/>
<circle cx="1206.2" cy="1322.9" r="5.75" fill="#9D9FA2" stroke="#231F20" stroke-width="2.1"/>
<circle cx="1224.3" cy="1329.2" r="5.75" fill="#9D9FA2" stroke="#231F20" stroke-width="2.1"/>
<circle cx="1248.3" cy="1325.4" r="5.75" fill="#9D9FA2" stroke="#231F20" stroke-width="2.1"/>
<circle cx="1271.7" cy="1341.6" r="5.75" fill="#9D9FA2" stroke="#231F20" stroke-width="2.1"/>
<circle cx="1264.5" cy="1352.8" r="5.75" fill="#9D9FA2" stroke="#231F20" stroke-width="2.1"/>
<circle cx="1218.4" cy="1360.6" r="5.75" fill="#9D9FA2" stroke="#231F20" stroke-width="2.1"/>
<circle cx="1204" cy="1375.6" r="5.75" fill="#9D9FA2" stroke="#231F20" stroke-width="2.1"/>
<circle cx="1254.2" cy="1379" r="5.75" fill="#9D9FA2" stroke="#231F20" stroke-width="2.1"/>
<circle cx="1219.6" cy="1390.2" r="5.75" fill="#9D9FA2" stroke="#231F20" stroke-width="2.1"/>
<circle cx="1213.4" cy="1398" r="5.75" fill="#9D9FA2" stroke="#231F20" stroke-width="2.1"/>
<circle cx="1212.1" cy="1391.5" r="5.75" fill="#9D9FA2" stroke="#231F20" stroke-width="2.1"/>
<circle cx="1236.4" cy="1390.2" r="5.75" fill="#9D9FA2" stroke="#231F20" stroke-width="2.1"/>
<circle cx="1238.6" cy="1405.5" r="5.75" fill="#9D9FA2" stroke="#231F20" stroke-width="2.1"/>
<circle cx="1262.9" cy="1438.5" r="5.75" fill="#9D9FA2" stroke="#231F20" stroke-width="2.1"/>
<circle cx="1207.8" cy="1447.9" r="5.75" fill="#9D9FA2" stroke="#231F20" stroke-width="2.1"/>
<text x="947" y="1644" font-size="25.5" text-anchor="middle" >18</text>
<text x="1034" y="1644" font-size="25.5" text-anchor="middle" >12</text>
<text x="1151.5" y="1644" font-size="25.5" text-anchor="middle" >18</text>
<text x="1237.5" y="1644" font-size="25.5" text-anchor="middle" >18</text>
<text x="911.3" y="1292.8" font-size="34.5" text-anchor="start" >tZ</text>
<text x="684.3" y="1293" font-size="34" text-anchor="start" font-weight="bold" >G</text>
<text transform="translate(744.5,1622) rotate(-90)" x="-2.48" y="0" font-size="35" letter-spacing="-0.082">[tZ] pmol / g FW</text>
</svg>
</body></html>
